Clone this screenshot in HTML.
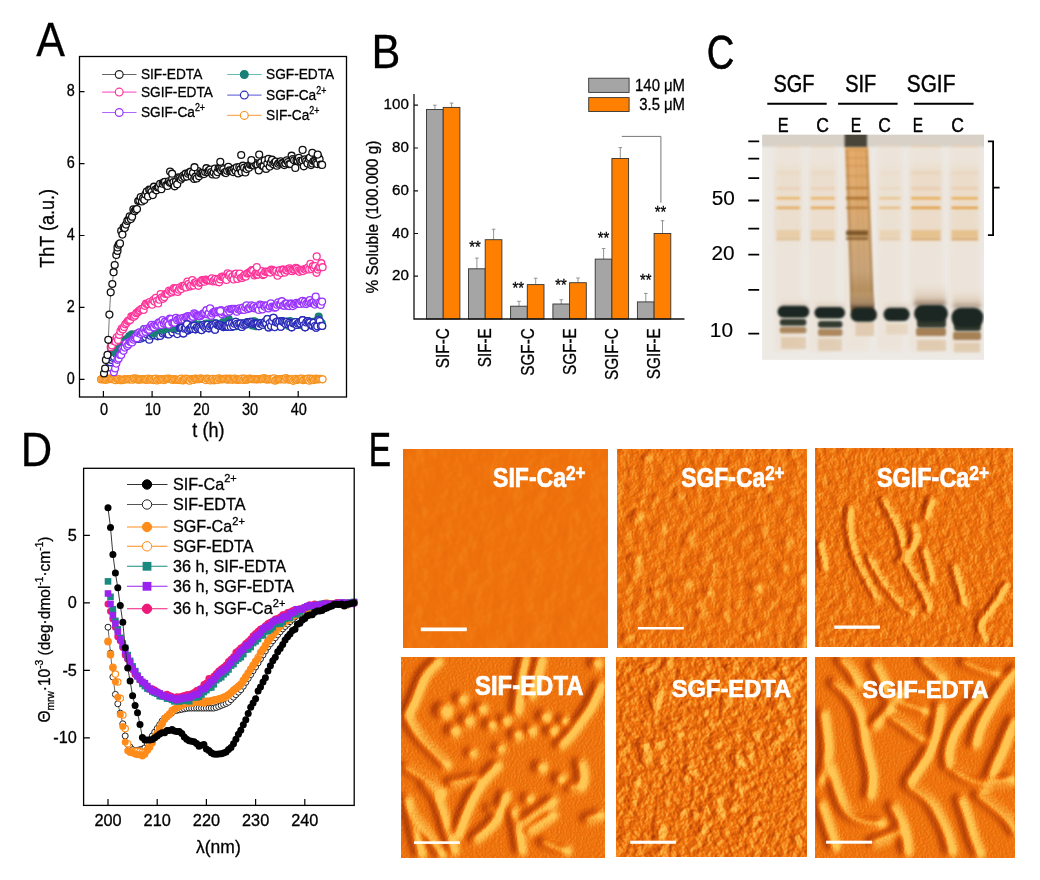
<!DOCTYPE html>
<html><head><meta charset="utf-8"><style>
html,body{margin:0;padding:0;background:#fff;}
svg{display:block;}
text{font-family:"Liberation Sans", Arial, sans-serif;}
#A text,#B text,#D text{stroke:#000;stroke-width:0.3px;}
</style></head><body>
<svg width="1040" height="880" viewBox="0 0 1040 880">
<rect width="1040" height="880" fill="#fff"/>
<g id="A">

<text transform="translate(36.15,55.65) scale(0.894,1)" font-size="48.1" stroke="#000" stroke-width="0.6">A</text>
<g fill="#fff" stroke="#f7931e" stroke-width="1.3"><path d="M101.0,379.4 L102.2,379.0 L103.4,379.4 L104.6,379.5 L105.8,379.8 L107.1,379.4 L108.3,378.7 L109.5,379.1 L110.7,378.7 L111.9,379.2 L113.1,379.1 L114.4,379.2 L115.6,380.2 L116.8,378.8 L118.0,379.0 L119.2,379.0 L120.4,380.2 L121.7,380.2 L122.9,379.8 L124.1,379.6 L125.3,379.1 L126.5,379.3 L127.8,379.0 L129.0,379.6 L130.2,379.1 L131.4,379.1 L132.6,379.7 L133.8,378.4 L135.1,379.0 L136.3,378.7 L137.5,379.6 L138.7,379.7 L139.9,379.5 L141.1,379.4 L142.4,379.0 L143.6,379.2 L144.8,379.5 L146.0,379.8 L147.2,379.6 L148.4,378.6 L149.7,379.7 L150.9,379.2 L152.1,379.1 L153.3,380.1 L154.5,379.3 L155.8,378.6 L157.0,380.4 L158.2,379.5 L159.4,379.4 L160.6,379.7 L161.8,379.0 L163.1,379.3 L164.3,380.1 L165.5,378.9 L166.7,378.9 L167.9,378.8 L169.1,378.5 L170.4,379.1 L171.6,379.2 L172.8,380.0 L174.0,379.0 L175.2,379.6 L176.4,379.5 L177.7,380.0 L178.9,379.8 L180.1,379.6 L181.3,378.6 L182.5,380.4 L183.8,380.1 L185.0,379.2 L186.2,378.5 L187.4,379.0 L188.6,380.3 L189.8,380.7 L191.1,379.1 L192.3,379.7 L193.5,379.9 L194.7,378.8 L195.9,378.7 L197.1,379.2 L198.4,379.2 L199.6,379.1 L200.8,378.4 L202.0,379.0 L203.2,379.0 L204.5,379.0 L205.7,380.1 L206.9,378.6 L208.1,378.8 L209.3,379.0 L210.5,380.4 L211.8,379.6 L213.0,378.8 L214.2,380.3 L215.4,379.4 L216.6,378.8 L217.8,380.0 L219.1,378.4 L220.3,379.0 L221.5,379.4 L222.7,379.1 L223.9,378.9 L225.2,379.2 L226.4,378.7 L227.6,379.7 L228.8,379.5 L230.0,378.7 L231.2,379.3 L232.5,379.8 L233.7,378.8 L234.9,378.5 L236.1,379.5 L237.3,380.0 L238.5,379.4 L239.8,379.4 L241.0,379.5 L242.2,378.5 L243.4,379.9 L244.6,378.6 L245.8,380.0 L247.1,379.7 L248.3,379.0 L249.5,378.7 L250.7,378.8 L251.9,379.1 L253.2,379.2 L254.4,379.2 L255.6,379.0 L256.8,379.4 L258.0,379.2 L259.2,379.0 L260.5,379.3 L261.7,378.9 L262.9,379.0 L264.1,378.2 L265.3,379.1 L266.5,379.5 L267.8,379.5 L269.0,379.3 L270.2,378.8 L271.4,379.5 L272.6,379.1 L273.9,378.3 L275.1,380.7 L276.3,379.9 L277.5,379.2 L278.7,379.1 L279.9,379.2 L281.2,379.5 L282.4,378.9 L283.6,379.1 L284.8,379.6 L286.0,378.0 L287.2,379.1 L288.5,379.6 L289.7,379.4 L290.9,379.4 L292.1,379.3 L293.3,380.8 L294.5,379.6 L295.8,378.8 L297.0,379.9 L298.2,379.3 L299.4,378.8 L300.6,378.8 L301.9,378.5 L303.1,380.2 L304.3,379.5 L305.5,379.5 L306.7,379.0 L307.9,378.7 L309.2,380.7 L310.4,378.7 L311.6,380.1 L312.8,378.9 L314.0,380.1 L315.2,379.2 L316.5,378.7 L317.7,379.4 L318.9,379.2 L320.1,378.9 L321.3,379.2 L322.6,379.3" fill="none" stroke="#f7b060" stroke-width="0.8"/><circle cx="101.0" cy="379.4" r="3.45"/><circle cx="102.2" cy="379.0" r="3.45"/><circle cx="103.4" cy="379.4" r="3.45"/><circle cx="104.6" cy="379.5" r="3.45"/><circle cx="105.8" cy="379.8" r="3.45"/><circle cx="107.1" cy="379.4" r="3.45"/><circle cx="108.3" cy="378.7" r="3.45"/><circle cx="109.5" cy="379.1" r="3.45"/><circle cx="110.7" cy="378.7" r="3.45"/><circle cx="111.9" cy="379.2" r="3.45"/><circle cx="113.1" cy="379.1" r="3.45"/><circle cx="114.4" cy="379.2" r="3.45"/><circle cx="115.6" cy="380.2" r="3.45"/><circle cx="116.8" cy="378.8" r="3.45"/><circle cx="118.0" cy="379.0" r="3.45"/><circle cx="119.2" cy="379.0" r="3.45"/><circle cx="120.4" cy="380.2" r="3.45"/><circle cx="121.7" cy="380.2" r="3.45"/><circle cx="122.9" cy="379.8" r="3.45"/><circle cx="124.1" cy="379.6" r="3.45"/><circle cx="125.3" cy="379.1" r="3.45"/><circle cx="126.5" cy="379.3" r="3.45"/><circle cx="127.8" cy="379.0" r="3.45"/><circle cx="129.0" cy="379.6" r="3.45"/><circle cx="130.2" cy="379.1" r="3.45"/><circle cx="131.4" cy="379.1" r="3.45"/><circle cx="132.6" cy="379.7" r="3.45"/><circle cx="133.8" cy="378.4" r="3.45"/><circle cx="135.1" cy="379.0" r="3.45"/><circle cx="136.3" cy="378.7" r="3.45"/><circle cx="137.5" cy="379.6" r="3.45"/><circle cx="138.7" cy="379.7" r="3.45"/><circle cx="139.9" cy="379.5" r="3.45"/><circle cx="141.1" cy="379.4" r="3.45"/><circle cx="142.4" cy="379.0" r="3.45"/><circle cx="143.6" cy="379.2" r="3.45"/><circle cx="144.8" cy="379.5" r="3.45"/><circle cx="146.0" cy="379.8" r="3.45"/><circle cx="147.2" cy="379.6" r="3.45"/><circle cx="148.4" cy="378.6" r="3.45"/><circle cx="149.7" cy="379.7" r="3.45"/><circle cx="150.9" cy="379.2" r="3.45"/><circle cx="152.1" cy="379.1" r="3.45"/><circle cx="153.3" cy="380.1" r="3.45"/><circle cx="154.5" cy="379.3" r="3.45"/><circle cx="155.8" cy="378.6" r="3.45"/><circle cx="157.0" cy="380.4" r="3.45"/><circle cx="158.2" cy="379.5" r="3.45"/><circle cx="159.4" cy="379.4" r="3.45"/><circle cx="160.6" cy="379.7" r="3.45"/><circle cx="161.8" cy="379.0" r="3.45"/><circle cx="163.1" cy="379.3" r="3.45"/><circle cx="164.3" cy="380.1" r="3.45"/><circle cx="165.5" cy="378.9" r="3.45"/><circle cx="166.7" cy="378.9" r="3.45"/><circle cx="167.9" cy="378.8" r="3.45"/><circle cx="169.1" cy="378.5" r="3.45"/><circle cx="170.4" cy="379.1" r="3.45"/><circle cx="171.6" cy="379.2" r="3.45"/><circle cx="172.8" cy="380.0" r="3.45"/><circle cx="174.0" cy="379.0" r="3.45"/><circle cx="175.2" cy="379.6" r="3.45"/><circle cx="176.4" cy="379.5" r="3.45"/><circle cx="177.7" cy="380.0" r="3.45"/><circle cx="178.9" cy="379.8" r="3.45"/><circle cx="180.1" cy="379.6" r="3.45"/><circle cx="181.3" cy="378.6" r="3.45"/><circle cx="182.5" cy="380.4" r="3.45"/><circle cx="183.8" cy="380.1" r="3.45"/><circle cx="185.0" cy="379.2" r="3.45"/><circle cx="186.2" cy="378.5" r="3.45"/><circle cx="187.4" cy="379.0" r="3.45"/><circle cx="188.6" cy="380.3" r="3.45"/><circle cx="189.8" cy="380.7" r="3.45"/><circle cx="191.1" cy="379.1" r="3.45"/><circle cx="192.3" cy="379.7" r="3.45"/><circle cx="193.5" cy="379.9" r="3.45"/><circle cx="194.7" cy="378.8" r="3.45"/><circle cx="195.9" cy="378.7" r="3.45"/><circle cx="197.1" cy="379.2" r="3.45"/><circle cx="198.4" cy="379.2" r="3.45"/><circle cx="199.6" cy="379.1" r="3.45"/><circle cx="200.8" cy="378.4" r="3.45"/><circle cx="202.0" cy="379.0" r="3.45"/><circle cx="203.2" cy="379.0" r="3.45"/><circle cx="204.5" cy="379.0" r="3.45"/><circle cx="205.7" cy="380.1" r="3.45"/><circle cx="206.9" cy="378.6" r="3.45"/><circle cx="208.1" cy="378.8" r="3.45"/><circle cx="209.3" cy="379.0" r="3.45"/><circle cx="210.5" cy="380.4" r="3.45"/><circle cx="211.8" cy="379.6" r="3.45"/><circle cx="213.0" cy="378.8" r="3.45"/><circle cx="214.2" cy="380.3" r="3.45"/><circle cx="215.4" cy="379.4" r="3.45"/><circle cx="216.6" cy="378.8" r="3.45"/><circle cx="217.8" cy="380.0" r="3.45"/><circle cx="219.1" cy="378.4" r="3.45"/><circle cx="220.3" cy="379.0" r="3.45"/><circle cx="221.5" cy="379.4" r="3.45"/><circle cx="222.7" cy="379.1" r="3.45"/><circle cx="223.9" cy="378.9" r="3.45"/><circle cx="225.2" cy="379.2" r="3.45"/><circle cx="226.4" cy="378.7" r="3.45"/><circle cx="227.6" cy="379.7" r="3.45"/><circle cx="228.8" cy="379.5" r="3.45"/><circle cx="230.0" cy="378.7" r="3.45"/><circle cx="231.2" cy="379.3" r="3.45"/><circle cx="232.5" cy="379.8" r="3.45"/><circle cx="233.7" cy="378.8" r="3.45"/><circle cx="234.9" cy="378.5" r="3.45"/><circle cx="236.1" cy="379.5" r="3.45"/><circle cx="237.3" cy="380.0" r="3.45"/><circle cx="238.5" cy="379.4" r="3.45"/><circle cx="239.8" cy="379.4" r="3.45"/><circle cx="241.0" cy="379.5" r="3.45"/><circle cx="242.2" cy="378.5" r="3.45"/><circle cx="243.4" cy="379.9" r="3.45"/><circle cx="244.6" cy="378.6" r="3.45"/><circle cx="245.8" cy="380.0" r="3.45"/><circle cx="247.1" cy="379.7" r="3.45"/><circle cx="248.3" cy="379.0" r="3.45"/><circle cx="249.5" cy="378.7" r="3.45"/><circle cx="250.7" cy="378.8" r="3.45"/><circle cx="251.9" cy="379.1" r="3.45"/><circle cx="253.2" cy="379.2" r="3.45"/><circle cx="254.4" cy="379.2" r="3.45"/><circle cx="255.6" cy="379.0" r="3.45"/><circle cx="256.8" cy="379.4" r="3.45"/><circle cx="258.0" cy="379.2" r="3.45"/><circle cx="259.2" cy="379.0" r="3.45"/><circle cx="260.5" cy="379.3" r="3.45"/><circle cx="261.7" cy="378.9" r="3.45"/><circle cx="262.9" cy="379.0" r="3.45"/><circle cx="264.1" cy="378.2" r="3.45"/><circle cx="265.3" cy="379.1" r="3.45"/><circle cx="266.5" cy="379.5" r="3.45"/><circle cx="267.8" cy="379.5" r="3.45"/><circle cx="269.0" cy="379.3" r="3.45"/><circle cx="270.2" cy="378.8" r="3.45"/><circle cx="271.4" cy="379.5" r="3.45"/><circle cx="272.6" cy="379.1" r="3.45"/><circle cx="273.9" cy="378.3" r="3.45"/><circle cx="275.1" cy="380.7" r="3.45"/><circle cx="276.3" cy="379.9" r="3.45"/><circle cx="277.5" cy="379.2" r="3.45"/><circle cx="278.7" cy="379.1" r="3.45"/><circle cx="279.9" cy="379.2" r="3.45"/><circle cx="281.2" cy="379.5" r="3.45"/><circle cx="282.4" cy="378.9" r="3.45"/><circle cx="283.6" cy="379.1" r="3.45"/><circle cx="284.8" cy="379.6" r="3.45"/><circle cx="286.0" cy="378.0" r="3.45"/><circle cx="287.2" cy="379.1" r="3.45"/><circle cx="288.5" cy="379.6" r="3.45"/><circle cx="289.7" cy="379.4" r="3.45"/><circle cx="290.9" cy="379.4" r="3.45"/><circle cx="292.1" cy="379.3" r="3.45"/><circle cx="293.3" cy="380.8" r="3.45"/><circle cx="294.5" cy="379.6" r="3.45"/><circle cx="295.8" cy="378.8" r="3.45"/><circle cx="297.0" cy="379.9" r="3.45"/><circle cx="298.2" cy="379.3" r="3.45"/><circle cx="299.4" cy="378.8" r="3.45"/><circle cx="300.6" cy="378.8" r="3.45"/><circle cx="301.9" cy="378.5" r="3.45"/><circle cx="303.1" cy="380.2" r="3.45"/><circle cx="304.3" cy="379.5" r="3.45"/><circle cx="305.5" cy="379.5" r="3.45"/><circle cx="306.7" cy="379.0" r="3.45"/><circle cx="307.9" cy="378.7" r="3.45"/><circle cx="309.2" cy="380.7" r="3.45"/><circle cx="310.4" cy="378.7" r="3.45"/><circle cx="311.6" cy="380.1" r="3.45"/><circle cx="312.8" cy="378.9" r="3.45"/><circle cx="314.0" cy="380.1" r="3.45"/><circle cx="315.2" cy="379.2" r="3.45"/><circle cx="316.5" cy="378.7" r="3.45"/><circle cx="317.7" cy="379.4" r="3.45"/><circle cx="318.9" cy="379.2" r="3.45"/><circle cx="320.1" cy="378.9" r="3.45"/><circle cx="321.3" cy="379.2" r="3.45"/><circle cx="322.6" cy="379.3" r="3.45"/></g>
<g fill="#fff" stroke="#2a2ab8" stroke-width="1.3"><circle cx="109.1" cy="367.4" r="3.45"/><circle cx="110.3" cy="362.3" r="3.45"/><circle cx="111.5" cy="360.0" r="3.45"/><circle cx="112.8" cy="357.8" r="3.45"/><circle cx="114.0" cy="356.8" r="3.45"/><circle cx="115.2" cy="352.3" r="3.45"/><circle cx="116.4" cy="353.9" r="3.45"/><circle cx="117.6" cy="352.7" r="3.45"/><circle cx="118.8" cy="348.7" r="3.45"/><circle cx="120.1" cy="348.8" r="3.45"/><circle cx="121.3" cy="348.0" r="3.45"/><circle cx="122.5" cy="347.1" r="3.45"/><circle cx="123.7" cy="345.1" r="3.45"/><circle cx="124.9" cy="342.6" r="3.45"/><circle cx="126.1" cy="342.2" r="3.45"/><circle cx="127.4" cy="344.2" r="3.45"/><circle cx="128.6" cy="340.5" r="3.45"/><circle cx="129.8" cy="340.1" r="3.45"/><circle cx="131.0" cy="341.9" r="3.45"/><circle cx="132.2" cy="338.3" r="3.45"/><circle cx="133.4" cy="339.8" r="3.45"/><circle cx="134.7" cy="339.5" r="3.45"/><circle cx="135.9" cy="337.1" r="3.45"/><circle cx="137.1" cy="335.8" r="3.45"/><circle cx="138.3" cy="339.0" r="3.45"/><circle cx="139.5" cy="336.6" r="3.45"/><circle cx="140.8" cy="338.6" r="3.45"/><circle cx="142.0" cy="332.6" r="3.45"/><circle cx="143.2" cy="337.4" r="3.45"/><circle cx="144.4" cy="334.1" r="3.45"/><circle cx="145.6" cy="337.1" r="3.45"/><circle cx="146.8" cy="334.2" r="3.45"/><circle cx="148.1" cy="331.4" r="3.45"/><circle cx="149.3" cy="339.7" r="3.45"/><circle cx="150.5" cy="335.7" r="3.45"/><circle cx="151.7" cy="333.7" r="3.45"/><circle cx="152.9" cy="334.5" r="3.45"/><circle cx="154.1" cy="335.3" r="3.45"/><circle cx="155.4" cy="329.9" r="3.45"/><circle cx="156.6" cy="333.4" r="3.45"/><circle cx="157.8" cy="336.3" r="3.45"/><circle cx="159.0" cy="331.6" r="3.45"/><circle cx="160.2" cy="336.0" r="3.45"/><circle cx="161.5" cy="330.6" r="3.45"/><circle cx="162.7" cy="333.5" r="3.45"/><circle cx="163.9" cy="332.0" r="3.45"/><circle cx="165.1" cy="329.8" r="3.45"/><circle cx="166.3" cy="331.7" r="3.45"/><circle cx="167.5" cy="334.2" r="3.45"/><circle cx="168.8" cy="334.5" r="3.45"/><circle cx="170.0" cy="329.1" r="3.45"/><circle cx="171.2" cy="329.7" r="3.45"/><circle cx="172.4" cy="332.3" r="3.45"/><circle cx="173.6" cy="329.1" r="3.45"/><circle cx="174.8" cy="329.5" r="3.45"/><circle cx="176.1" cy="329.1" r="3.45"/><circle cx="177.3" cy="334.1" r="3.45"/><circle cx="178.5" cy="330.4" r="3.45"/><circle cx="179.7" cy="328.0" r="3.45"/><circle cx="180.9" cy="328.1" r="3.45"/><circle cx="182.1" cy="327.7" r="3.45"/><circle cx="183.4" cy="333.5" r="3.45"/><circle cx="184.6" cy="328.7" r="3.45"/><circle cx="185.8" cy="328.0" r="3.45"/><circle cx="187.0" cy="324.2" r="3.45"/><circle cx="188.2" cy="330.3" r="3.45"/><circle cx="189.5" cy="329.1" r="3.45"/><circle cx="190.7" cy="328.3" r="3.45"/><circle cx="191.9" cy="326.7" r="3.45"/><circle cx="193.1" cy="328.9" r="3.45"/><circle cx="194.3" cy="325.9" r="3.45"/><circle cx="195.5" cy="329.3" r="3.45"/><circle cx="196.8" cy="327.3" r="3.45"/><circle cx="198.0" cy="328.6" r="3.45"/><circle cx="199.2" cy="327.2" r="3.45"/><circle cx="200.4" cy="328.6" r="3.45"/><circle cx="201.6" cy="330.1" r="3.45"/><circle cx="202.8" cy="325.2" r="3.45"/><circle cx="204.1" cy="326.5" r="3.45"/><circle cx="205.3" cy="327.9" r="3.45"/><circle cx="206.5" cy="326.4" r="3.45"/><circle cx="207.7" cy="324.9" r="3.45"/><circle cx="208.9" cy="328.3" r="3.45"/><circle cx="210.2" cy="326.6" r="3.45"/><circle cx="211.4" cy="325.3" r="3.45"/><circle cx="212.6" cy="325.2" r="3.45"/><circle cx="213.8" cy="326.6" r="3.45"/><circle cx="215.0" cy="329.7" r="3.45"/><circle cx="216.2" cy="323.6" r="3.45"/><circle cx="217.5" cy="325.1" r="3.45"/><circle cx="218.7" cy="325.6" r="3.45"/><circle cx="219.9" cy="326.0" r="3.45"/><circle cx="221.1" cy="325.0" r="3.45"/><circle cx="222.3" cy="326.1" r="3.45"/><circle cx="223.5" cy="327.1" r="3.45"/><circle cx="224.8" cy="326.5" r="3.45"/><circle cx="226.0" cy="326.1" r="3.45"/><circle cx="227.2" cy="326.1" r="3.45"/><circle cx="228.4" cy="326.9" r="3.45"/><circle cx="229.6" cy="323.6" r="3.45"/><circle cx="230.8" cy="327.0" r="3.45"/><circle cx="232.1" cy="323.4" r="3.45"/><circle cx="233.3" cy="326.3" r="3.45"/><circle cx="234.5" cy="323.7" r="3.45"/><circle cx="235.7" cy="321.8" r="3.45"/><circle cx="236.9" cy="323.8" r="3.45"/><circle cx="238.2" cy="325.4" r="3.45"/><circle cx="239.4" cy="323.9" r="3.45"/><circle cx="240.6" cy="323.6" r="3.45"/><circle cx="241.8" cy="326.9" r="3.45"/><circle cx="243.0" cy="324.8" r="3.45"/><circle cx="244.2" cy="323.3" r="3.45"/><circle cx="245.5" cy="324.4" r="3.45"/><circle cx="246.7" cy="323.4" r="3.45"/><circle cx="247.9" cy="322.1" r="3.45"/><circle cx="249.1" cy="322.0" r="3.45"/><circle cx="250.3" cy="321.8" r="3.45"/><circle cx="251.5" cy="322.3" r="3.45"/><circle cx="252.8" cy="323.8" r="3.45"/><circle cx="254.0" cy="323.3" r="3.45"/><circle cx="255.2" cy="323.7" r="3.45"/><circle cx="256.4" cy="323.7" r="3.45"/><circle cx="257.6" cy="323.5" r="3.45"/><circle cx="258.9" cy="326.2" r="3.45"/><circle cx="260.1" cy="323.7" r="3.45"/><circle cx="261.3" cy="323.1" r="3.45"/><circle cx="262.5" cy="324.7" r="3.45"/><circle cx="263.7" cy="323.0" r="3.45"/><circle cx="264.9" cy="322.0" r="3.45"/><circle cx="266.2" cy="323.2" r="3.45"/><circle cx="267.4" cy="319.1" r="3.45"/><circle cx="268.6" cy="327.5" r="3.45"/><circle cx="269.8" cy="323.1" r="3.45"/><circle cx="271.0" cy="326.0" r="3.45"/><circle cx="272.2" cy="320.9" r="3.45"/><circle cx="273.5" cy="317.8" r="3.45"/><circle cx="274.7" cy="327.1" r="3.45"/><circle cx="275.9" cy="322.3" r="3.45"/><circle cx="277.1" cy="321.6" r="3.45"/><circle cx="278.3" cy="323.1" r="3.45"/><circle cx="279.5" cy="321.6" r="3.45"/><circle cx="280.8" cy="326.7" r="3.45"/><circle cx="282.0" cy="321.2" r="3.45"/><circle cx="283.2" cy="322.1" r="3.45"/><circle cx="284.4" cy="322.8" r="3.45"/><circle cx="285.6" cy="324.0" r="3.45"/><circle cx="286.9" cy="321.8" r="3.45"/><circle cx="288.1" cy="323.9" r="3.45"/><circle cx="289.3" cy="322.7" r="3.45"/><circle cx="290.5" cy="324.1" r="3.45"/><circle cx="291.7" cy="327.3" r="3.45"/><circle cx="292.9" cy="323.3" r="3.45"/><circle cx="294.2" cy="323.0" r="3.45"/><circle cx="295.4" cy="322.0" r="3.45"/><circle cx="296.6" cy="325.0" r="3.45"/><circle cx="297.8" cy="323.6" r="3.45"/><circle cx="299.0" cy="322.5" r="3.45"/><circle cx="300.2" cy="323.4" r="3.45"/><circle cx="301.5" cy="321.5" r="3.45"/><circle cx="302.7" cy="320.2" r="3.45"/><circle cx="303.9" cy="325.4" r="3.45"/><circle cx="305.1" cy="327.3" r="3.45"/><circle cx="306.3" cy="322.4" r="3.45"/><circle cx="307.6" cy="321.2" r="3.45"/><circle cx="308.8" cy="322.4" r="3.45"/><circle cx="310.0" cy="322.6" r="3.45"/><circle cx="311.2" cy="325.3" r="3.45"/><circle cx="312.4" cy="325.5" r="3.45"/><circle cx="313.6" cy="322.7" r="3.45"/><circle cx="314.9" cy="326.0" r="3.45"/><circle cx="316.1" cy="327.7" r="3.45"/><circle cx="317.3" cy="326.2" r="3.45"/><circle cx="318.5" cy="320.0" r="3.45"/><circle cx="319.7" cy="321.1" r="3.45"/><circle cx="320.9" cy="325.9" r="3.45"/><circle cx="322.2" cy="326.0" r="3.45"/></g>
<g fill="#1a7f77" stroke="#1a7f77" stroke-width="1.3"><circle cx="112.3" cy="351.7" r="3.45"/><circle cx="113.5" cy="351.4" r="3.45"/><circle cx="114.7" cy="348.7" r="3.45"/><circle cx="116.0" cy="348.9" r="3.45"/><circle cx="117.2" cy="348.2" r="3.45"/><circle cx="118.4" cy="346.0" r="3.45"/><circle cx="119.6" cy="347.1" r="3.45"/><circle cx="120.8" cy="345.1" r="3.45"/><circle cx="122.1" cy="343.3" r="3.45"/><circle cx="123.3" cy="341.3" r="3.45"/><circle cx="124.5" cy="341.3" r="3.45"/><circle cx="125.7" cy="339.7" r="3.45"/><circle cx="126.9" cy="339.7" r="3.45"/><circle cx="128.1" cy="338.0" r="3.45"/><circle cx="129.4" cy="336.0" r="3.45"/><circle cx="130.6" cy="338.1" r="3.45"/><circle cx="131.8" cy="334.3" r="3.45"/><circle cx="133.0" cy="337.1" r="3.45"/><circle cx="134.2" cy="335.9" r="3.45"/><circle cx="135.4" cy="335.2" r="3.45"/><circle cx="136.7" cy="333.8" r="3.45"/><circle cx="137.9" cy="335.7" r="3.45"/><circle cx="139.1" cy="336.2" r="3.45"/><circle cx="140.3" cy="332.8" r="3.45"/><circle cx="141.5" cy="332.1" r="3.45"/><circle cx="142.7" cy="331.8" r="3.45"/><circle cx="144.0" cy="329.2" r="3.45"/><circle cx="145.2" cy="331.5" r="3.45"/><circle cx="146.4" cy="331.2" r="3.45"/><circle cx="147.6" cy="330.1" r="3.45"/><circle cx="148.8" cy="330.5" r="3.45"/><circle cx="150.1" cy="328.8" r="3.45"/><circle cx="151.3" cy="331.6" r="3.45"/><circle cx="152.5" cy="330.4" r="3.45"/><circle cx="153.7" cy="333.6" r="3.45"/><circle cx="154.9" cy="328.8" r="3.45"/><circle cx="156.1" cy="330.0" r="3.45"/><circle cx="157.4" cy="328.4" r="3.45"/><circle cx="158.6" cy="326.9" r="3.45"/><circle cx="159.8" cy="329.1" r="3.45"/><circle cx="161.0" cy="329.3" r="3.45"/><circle cx="162.2" cy="329.4" r="3.45"/><circle cx="163.4" cy="329.6" r="3.45"/><circle cx="164.7" cy="329.2" r="3.45"/><circle cx="165.9" cy="327.7" r="3.45"/><circle cx="167.1" cy="328.2" r="3.45"/><circle cx="168.3" cy="328.0" r="3.45"/><circle cx="169.5" cy="328.1" r="3.45"/><circle cx="170.8" cy="326.8" r="3.45"/><circle cx="172.0" cy="327.1" r="3.45"/><circle cx="173.2" cy="327.7" r="3.45"/><circle cx="174.4" cy="326.7" r="3.45"/><circle cx="175.6" cy="327.4" r="3.45"/><circle cx="176.8" cy="328.3" r="3.45"/><circle cx="178.1" cy="325.4" r="3.45"/><circle cx="179.3" cy="326.3" r="3.45"/><circle cx="180.5" cy="327.7" r="3.45"/><circle cx="181.7" cy="325.3" r="3.45"/><circle cx="182.9" cy="326.0" r="3.45"/><circle cx="184.1" cy="327.9" r="3.45"/><circle cx="185.4" cy="324.3" r="3.45"/><circle cx="186.6" cy="325.6" r="3.45"/><circle cx="187.8" cy="324.8" r="3.45"/><circle cx="189.0" cy="325.4" r="3.45"/><circle cx="190.2" cy="325.6" r="3.45"/><circle cx="191.4" cy="327.0" r="3.45"/><circle cx="192.7" cy="324.3" r="3.45"/><circle cx="193.9" cy="325.3" r="3.45"/><circle cx="195.1" cy="325.6" r="3.45"/><circle cx="196.3" cy="324.9" r="3.45"/><circle cx="197.5" cy="325.2" r="3.45"/><circle cx="198.8" cy="324.5" r="3.45"/><circle cx="200.0" cy="325.6" r="3.45"/><circle cx="201.2" cy="325.2" r="3.45"/><circle cx="202.4" cy="327.5" r="3.45"/><circle cx="203.6" cy="325.6" r="3.45"/><circle cx="204.8" cy="324.4" r="3.45"/><circle cx="206.1" cy="323.6" r="3.45"/><circle cx="207.3" cy="325.5" r="3.45"/><circle cx="208.5" cy="325.2" r="3.45"/><circle cx="209.7" cy="323.3" r="3.45"/><circle cx="210.9" cy="325.4" r="3.45"/><circle cx="212.1" cy="324.2" r="3.45"/><circle cx="213.4" cy="323.1" r="3.45"/><circle cx="214.6" cy="324.9" r="3.45"/><circle cx="215.8" cy="323.6" r="3.45"/><circle cx="217.0" cy="325.6" r="3.45"/><circle cx="218.2" cy="324.6" r="3.45"/><circle cx="219.5" cy="324.9" r="3.45"/><circle cx="220.7" cy="324.7" r="3.45"/><circle cx="221.9" cy="323.6" r="3.45"/><circle cx="223.1" cy="322.2" r="3.45"/><circle cx="224.3" cy="325.5" r="3.45"/><circle cx="225.5" cy="325.3" r="3.45"/><circle cx="226.8" cy="324.2" r="3.45"/><circle cx="228.0" cy="325.8" r="3.45"/><circle cx="229.2" cy="324.1" r="3.45"/><circle cx="230.4" cy="324.0" r="3.45"/><circle cx="231.6" cy="324.9" r="3.45"/><circle cx="232.8" cy="324.0" r="3.45"/><circle cx="234.1" cy="326.2" r="3.45"/><circle cx="235.3" cy="323.7" r="3.45"/><circle cx="236.5" cy="326.2" r="3.45"/><circle cx="237.7" cy="325.2" r="3.45"/><circle cx="238.9" cy="325.0" r="3.45"/><circle cx="240.1" cy="324.8" r="3.45"/><circle cx="241.4" cy="323.4" r="3.45"/><circle cx="242.6" cy="324.3" r="3.45"/><circle cx="243.8" cy="324.7" r="3.45"/><circle cx="245.0" cy="323.7" r="3.45"/><circle cx="246.2" cy="322.6" r="3.45"/><circle cx="247.5" cy="324.2" r="3.45"/><circle cx="248.7" cy="323.8" r="3.45"/><circle cx="249.9" cy="322.8" r="3.45"/><circle cx="251.1" cy="323.9" r="3.45"/><circle cx="252.3" cy="325.5" r="3.45"/><circle cx="253.5" cy="321.4" r="3.45"/><circle cx="254.8" cy="321.7" r="3.45"/><circle cx="256.0" cy="326.2" r="3.45"/><circle cx="257.2" cy="324.0" r="3.45"/><circle cx="258.4" cy="323.5" r="3.45"/><circle cx="259.6" cy="322.9" r="3.45"/><circle cx="260.8" cy="323.2" r="3.45"/><circle cx="262.1" cy="324.2" r="3.45"/><circle cx="263.3" cy="325.0" r="3.45"/><circle cx="264.5" cy="323.7" r="3.45"/><circle cx="265.7" cy="322.7" r="3.45"/><circle cx="266.9" cy="325.0" r="3.45"/><circle cx="268.2" cy="324.9" r="3.45"/><circle cx="269.4" cy="323.8" r="3.45"/><circle cx="270.6" cy="325.8" r="3.45"/><circle cx="271.8" cy="324.0" r="3.45"/><circle cx="273.0" cy="324.1" r="3.45"/><circle cx="274.2" cy="323.1" r="3.45"/><circle cx="275.5" cy="324.3" r="3.45"/><circle cx="276.7" cy="324.5" r="3.45"/><circle cx="277.9" cy="324.0" r="3.45"/><circle cx="279.1" cy="323.6" r="3.45"/><circle cx="280.3" cy="324.2" r="3.45"/><circle cx="281.5" cy="323.4" r="3.45"/><circle cx="282.8" cy="322.6" r="3.45"/><circle cx="284.0" cy="322.1" r="3.45"/><circle cx="285.2" cy="321.5" r="3.45"/><circle cx="286.4" cy="324.2" r="3.45"/><circle cx="287.6" cy="323.8" r="3.45"/><circle cx="288.8" cy="326.0" r="3.45"/><circle cx="290.1" cy="321.2" r="3.45"/><circle cx="291.3" cy="324.0" r="3.45"/><circle cx="292.5" cy="323.2" r="3.45"/><circle cx="293.7" cy="322.6" r="3.45"/><circle cx="294.9" cy="324.6" r="3.45"/><circle cx="296.2" cy="322.6" r="3.45"/><circle cx="297.4" cy="323.1" r="3.45"/><circle cx="298.6" cy="325.0" r="3.45"/><circle cx="299.8" cy="322.7" r="3.45"/><circle cx="301.0" cy="321.7" r="3.45"/><circle cx="302.2" cy="325.0" r="3.45"/><circle cx="303.5" cy="322.1" r="3.45"/><circle cx="304.7" cy="322.7" r="3.45"/><circle cx="305.9" cy="322.4" r="3.45"/><circle cx="307.1" cy="322.4" r="3.45"/><circle cx="308.3" cy="321.4" r="3.45"/><circle cx="309.5" cy="323.0" r="3.45"/><circle cx="310.8" cy="321.8" r="3.45"/><circle cx="312.0" cy="323.2" r="3.45"/><circle cx="313.2" cy="321.9" r="3.45"/><circle cx="314.4" cy="323.6" r="3.45"/><circle cx="315.6" cy="322.8" r="3.45"/><circle cx="316.9" cy="320.8" r="3.45"/><circle cx="318.1" cy="322.1" r="3.45"/><circle cx="319.3" cy="322.7" r="3.45"/><circle cx="320.5" cy="323.8" r="3.45"/><circle cx="321.7" cy="323.4" r="3.45"/><circle cx="175.0" cy="320.0" r="3.45"/><circle cx="190.6" cy="321.1" r="3.45"/><circle cx="193.0" cy="321.8" r="3.45"/><circle cx="228.6" cy="318.9" r="3.45"/><circle cx="318.7" cy="316.7" r="3.45"/></g>
<g fill="#fff" stroke="#9933ff" stroke-width="1.3"><circle cx="113.9" cy="372.2" r="3.45"/><circle cx="115.1" cy="368.5" r="3.45"/><circle cx="116.3" cy="363.6" r="3.45"/><circle cx="117.5" cy="359.8" r="3.45"/><circle cx="118.7" cy="358.4" r="3.45"/><circle cx="120.0" cy="354.9" r="3.45"/><circle cx="121.2" cy="355.0" r="3.45"/><circle cx="122.4" cy="348.9" r="3.45"/><circle cx="123.6" cy="350.8" r="3.45"/><circle cx="124.8" cy="347.6" r="3.45"/><circle cx="126.0" cy="343.4" r="3.45"/><circle cx="127.3" cy="346.1" r="3.45"/><circle cx="128.5" cy="344.5" r="3.45"/><circle cx="129.7" cy="341.5" r="3.45"/><circle cx="130.9" cy="342.2" r="3.45"/><circle cx="132.1" cy="342.4" r="3.45"/><circle cx="133.4" cy="339.6" r="3.45"/><circle cx="134.6" cy="338.0" r="3.45"/><circle cx="135.8" cy="336.8" r="3.45"/><circle cx="137.0" cy="338.2" r="3.45"/><circle cx="138.2" cy="333.1" r="3.45"/><circle cx="139.4" cy="332.3" r="3.45"/><circle cx="140.7" cy="333.9" r="3.45"/><circle cx="141.9" cy="332.5" r="3.45"/><circle cx="143.1" cy="332.8" r="3.45"/><circle cx="144.3" cy="329.1" r="3.45"/><circle cx="145.5" cy="331.8" r="3.45"/><circle cx="146.7" cy="328.9" r="3.45"/><circle cx="148.0" cy="330.0" r="3.45"/><circle cx="149.2" cy="329.7" r="3.45"/><circle cx="150.4" cy="326.7" r="3.45"/><circle cx="151.6" cy="324.9" r="3.45"/><circle cx="152.8" cy="326.6" r="3.45"/><circle cx="154.0" cy="327.3" r="3.45"/><circle cx="155.3" cy="324.6" r="3.45"/><circle cx="156.5" cy="325.6" r="3.45"/><circle cx="157.7" cy="324.7" r="3.45"/><circle cx="158.9" cy="322.3" r="3.45"/><circle cx="160.1" cy="322.6" r="3.45"/><circle cx="161.4" cy="324.9" r="3.45"/><circle cx="162.6" cy="320.0" r="3.45"/><circle cx="163.8" cy="323.4" r="3.45"/><circle cx="165.0" cy="321.7" r="3.45"/><circle cx="166.2" cy="323.7" r="3.45"/><circle cx="167.4" cy="322.4" r="3.45"/><circle cx="168.7" cy="324.8" r="3.45"/><circle cx="169.9" cy="318.7" r="3.45"/><circle cx="171.1" cy="319.0" r="3.45"/><circle cx="172.3" cy="322.8" r="3.45"/><circle cx="173.5" cy="322.9" r="3.45"/><circle cx="174.7" cy="322.7" r="3.45"/><circle cx="176.0" cy="317.9" r="3.45"/><circle cx="177.2" cy="320.2" r="3.45"/><circle cx="178.4" cy="319.1" r="3.45"/><circle cx="179.6" cy="319.2" r="3.45"/><circle cx="180.8" cy="318.5" r="3.45"/><circle cx="182.1" cy="319.8" r="3.45"/><circle cx="183.3" cy="317.8" r="3.45"/><circle cx="184.5" cy="319.9" r="3.45"/><circle cx="185.7" cy="317.5" r="3.45"/><circle cx="186.9" cy="316.7" r="3.45"/><circle cx="188.1" cy="316.2" r="3.45"/><circle cx="189.4" cy="317.1" r="3.45"/><circle cx="190.6" cy="318.0" r="3.45"/><circle cx="191.8" cy="316.0" r="3.45"/><circle cx="193.0" cy="316.8" r="3.45"/><circle cx="194.2" cy="313.3" r="3.45"/><circle cx="195.4" cy="314.4" r="3.45"/><circle cx="196.7" cy="315.6" r="3.45"/><circle cx="197.9" cy="315.9" r="3.45"/><circle cx="199.1" cy="316.1" r="3.45"/><circle cx="200.3" cy="316.2" r="3.45"/><circle cx="201.5" cy="315.1" r="3.45"/><circle cx="202.7" cy="313.8" r="3.45"/><circle cx="204.0" cy="313.2" r="3.45"/><circle cx="205.2" cy="312.9" r="3.45"/><circle cx="206.4" cy="310.2" r="3.45"/><circle cx="207.6" cy="314.5" r="3.45"/><circle cx="208.8" cy="313.2" r="3.45"/><circle cx="210.1" cy="308.4" r="3.45"/><circle cx="211.3" cy="315.8" r="3.45"/><circle cx="212.5" cy="313.4" r="3.45"/><circle cx="213.7" cy="312.1" r="3.45"/><circle cx="214.9" cy="311.9" r="3.45"/><circle cx="216.1" cy="311.4" r="3.45"/><circle cx="217.4" cy="312.3" r="3.45"/><circle cx="218.6" cy="311.1" r="3.45"/><circle cx="219.8" cy="311.5" r="3.45"/><circle cx="221.0" cy="310.2" r="3.45"/><circle cx="222.2" cy="314.3" r="3.45"/><circle cx="223.4" cy="312.6" r="3.45"/><circle cx="224.7" cy="311.0" r="3.45"/><circle cx="225.9" cy="312.5" r="3.45"/><circle cx="227.1" cy="312.4" r="3.45"/><circle cx="228.3" cy="309.5" r="3.45"/><circle cx="229.5" cy="311.4" r="3.45"/><circle cx="230.8" cy="309.2" r="3.45"/><circle cx="232.0" cy="308.9" r="3.45"/><circle cx="233.2" cy="309.4" r="3.45"/><circle cx="234.4" cy="308.9" r="3.45"/><circle cx="235.6" cy="309.8" r="3.45"/><circle cx="236.8" cy="311.7" r="3.45"/><circle cx="238.1" cy="309.3" r="3.45"/><circle cx="239.3" cy="308.4" r="3.45"/><circle cx="240.5" cy="309.9" r="3.45"/><circle cx="241.7" cy="309.0" r="3.45"/><circle cx="242.9" cy="307.5" r="3.45"/><circle cx="244.1" cy="310.0" r="3.45"/><circle cx="245.4" cy="307.4" r="3.45"/><circle cx="246.6" cy="305.3" r="3.45"/><circle cx="247.8" cy="309.1" r="3.45"/><circle cx="249.0" cy="307.8" r="3.45"/><circle cx="250.2" cy="308.2" r="3.45"/><circle cx="251.4" cy="305.3" r="3.45"/><circle cx="252.7" cy="307.2" r="3.45"/><circle cx="253.9" cy="306.1" r="3.45"/><circle cx="255.1" cy="308.5" r="3.45"/><circle cx="256.3" cy="307.3" r="3.45"/><circle cx="257.5" cy="307.2" r="3.45"/><circle cx="258.8" cy="309.9" r="3.45"/><circle cx="260.0" cy="304.6" r="3.45"/><circle cx="261.2" cy="305.4" r="3.45"/><circle cx="262.4" cy="309.5" r="3.45"/><circle cx="263.6" cy="305.4" r="3.45"/><circle cx="264.8" cy="306.7" r="3.45"/><circle cx="266.1" cy="305.6" r="3.45"/><circle cx="267.3" cy="305.6" r="3.45"/><circle cx="268.5" cy="308.5" r="3.45"/><circle cx="269.7" cy="306.3" r="3.45"/><circle cx="270.9" cy="303.4" r="3.45"/><circle cx="272.1" cy="306.6" r="3.45"/><circle cx="273.4" cy="307.2" r="3.45"/><circle cx="274.6" cy="307.7" r="3.45"/><circle cx="275.8" cy="307.3" r="3.45"/><circle cx="277.0" cy="304.7" r="3.45"/><circle cx="278.2" cy="302.4" r="3.45"/><circle cx="279.5" cy="304.3" r="3.45"/><circle cx="280.7" cy="304.5" r="3.45"/><circle cx="281.9" cy="301.2" r="3.45"/><circle cx="283.1" cy="305.6" r="3.45"/><circle cx="284.3" cy="305.7" r="3.45"/><circle cx="285.5" cy="303.7" r="3.45"/><circle cx="286.8" cy="303.6" r="3.45"/><circle cx="288.0" cy="306.0" r="3.45"/><circle cx="289.2" cy="306.1" r="3.45"/><circle cx="290.4" cy="303.7" r="3.45"/><circle cx="291.6" cy="303.7" r="3.45"/><circle cx="292.8" cy="306.1" r="3.45"/><circle cx="294.1" cy="304.2" r="3.45"/><circle cx="295.3" cy="304.6" r="3.45"/><circle cx="296.5" cy="302.9" r="3.45"/><circle cx="297.7" cy="303.8" r="3.45"/><circle cx="298.9" cy="303.6" r="3.45"/><circle cx="300.1" cy="303.9" r="3.45"/><circle cx="301.4" cy="301.6" r="3.45"/><circle cx="302.6" cy="300.9" r="3.45"/><circle cx="303.8" cy="303.7" r="3.45"/><circle cx="305.0" cy="301.6" r="3.45"/><circle cx="306.2" cy="304.1" r="3.45"/><circle cx="307.5" cy="302.7" r="3.45"/><circle cx="308.7" cy="301.5" r="3.45"/><circle cx="309.9" cy="300.1" r="3.45"/><circle cx="311.1" cy="303.1" r="3.45"/><circle cx="312.3" cy="302.5" r="3.45"/><circle cx="313.5" cy="302.0" r="3.45"/><circle cx="314.8" cy="304.6" r="3.45"/><circle cx="316.0" cy="302.1" r="3.45"/><circle cx="317.2" cy="303.1" r="3.45"/><circle cx="318.4" cy="301.3" r="3.45"/><circle cx="319.6" cy="303.6" r="3.45"/><circle cx="320.8" cy="304.9" r="3.45"/><circle cx="322.1" cy="301.6" r="3.45"/><circle cx="315.7" cy="296.6" r="3.45"/><circle cx="220.3" cy="311.0" r="3.45"/></g>
<g fill="#fff" stroke="#2a2ab8" stroke-width="1.3"><circle cx="179.7" cy="328.0" r="3.45"/><circle cx="180.9" cy="328.1" r="3.45"/><circle cx="182.1" cy="327.7" r="3.45"/><circle cx="183.4" cy="333.5" r="3.45"/><circle cx="184.6" cy="328.7" r="3.45"/><circle cx="185.8" cy="328.0" r="3.45"/><circle cx="187.0" cy="324.2" r="3.45"/><circle cx="188.2" cy="330.3" r="3.45"/><circle cx="189.5" cy="329.1" r="3.45"/><circle cx="190.7" cy="328.3" r="3.45"/><circle cx="191.9" cy="326.7" r="3.45"/><circle cx="193.1" cy="328.9" r="3.45"/><circle cx="194.3" cy="325.9" r="3.45"/><circle cx="195.5" cy="329.3" r="3.45"/><circle cx="196.8" cy="327.3" r="3.45"/><circle cx="198.0" cy="328.6" r="3.45"/><circle cx="199.2" cy="327.2" r="3.45"/><circle cx="200.4" cy="328.6" r="3.45"/><circle cx="201.6" cy="330.1" r="3.45"/><circle cx="202.8" cy="325.2" r="3.45"/><circle cx="204.1" cy="326.5" r="3.45"/><circle cx="205.3" cy="327.9" r="3.45"/><circle cx="206.5" cy="326.4" r="3.45"/><circle cx="207.7" cy="324.9" r="3.45"/><circle cx="208.9" cy="328.3" r="3.45"/><circle cx="210.2" cy="326.6" r="3.45"/><circle cx="211.4" cy="325.3" r="3.45"/><circle cx="212.6" cy="325.2" r="3.45"/><circle cx="213.8" cy="326.6" r="3.45"/><circle cx="215.0" cy="329.7" r="3.45"/><circle cx="216.2" cy="323.6" r="3.45"/><circle cx="217.5" cy="325.1" r="3.45"/><circle cx="218.7" cy="325.6" r="3.45"/><circle cx="219.9" cy="326.0" r="3.45"/><circle cx="221.1" cy="325.0" r="3.45"/><circle cx="222.3" cy="326.1" r="3.45"/><circle cx="223.5" cy="327.1" r="3.45"/><circle cx="224.8" cy="326.5" r="3.45"/><circle cx="226.0" cy="326.1" r="3.45"/><circle cx="227.2" cy="326.1" r="3.45"/><circle cx="228.4" cy="326.9" r="3.45"/><circle cx="229.6" cy="323.6" r="3.45"/><circle cx="230.8" cy="327.0" r="3.45"/><circle cx="232.1" cy="323.4" r="3.45"/><circle cx="233.3" cy="326.3" r="3.45"/><circle cx="234.5" cy="323.7" r="3.45"/><circle cx="235.7" cy="321.8" r="3.45"/><circle cx="236.9" cy="323.8" r="3.45"/><circle cx="238.2" cy="325.4" r="3.45"/><circle cx="239.4" cy="323.9" r="3.45"/><circle cx="240.6" cy="323.6" r="3.45"/><circle cx="241.8" cy="326.9" r="3.45"/><circle cx="243.0" cy="324.8" r="3.45"/><circle cx="244.2" cy="323.3" r="3.45"/><circle cx="245.5" cy="324.4" r="3.45"/><circle cx="246.7" cy="323.4" r="3.45"/><circle cx="247.9" cy="322.1" r="3.45"/><circle cx="249.1" cy="322.0" r="3.45"/><circle cx="250.3" cy="321.8" r="3.45"/><circle cx="251.5" cy="322.3" r="3.45"/><circle cx="252.8" cy="323.8" r="3.45"/><circle cx="254.0" cy="323.3" r="3.45"/><circle cx="255.2" cy="323.7" r="3.45"/><circle cx="256.4" cy="323.7" r="3.45"/><circle cx="257.6" cy="323.5" r="3.45"/><circle cx="258.9" cy="326.2" r="3.45"/><circle cx="260.1" cy="323.7" r="3.45"/><circle cx="261.3" cy="323.1" r="3.45"/><circle cx="262.5" cy="324.7" r="3.45"/><circle cx="263.7" cy="323.0" r="3.45"/><circle cx="264.9" cy="322.0" r="3.45"/><circle cx="266.2" cy="323.2" r="3.45"/><circle cx="267.4" cy="319.1" r="3.45"/><circle cx="268.6" cy="327.5" r="3.45"/><circle cx="269.8" cy="323.1" r="3.45"/><circle cx="271.0" cy="326.0" r="3.45"/><circle cx="272.2" cy="320.9" r="3.45"/><circle cx="273.5" cy="317.8" r="3.45"/><circle cx="274.7" cy="327.1" r="3.45"/><circle cx="275.9" cy="322.3" r="3.45"/><circle cx="277.1" cy="321.6" r="3.45"/><circle cx="278.3" cy="323.1" r="3.45"/><circle cx="279.5" cy="321.6" r="3.45"/><circle cx="280.8" cy="326.7" r="3.45"/><circle cx="282.0" cy="321.2" r="3.45"/><circle cx="283.2" cy="322.1" r="3.45"/><circle cx="284.4" cy="322.8" r="3.45"/><circle cx="285.6" cy="324.0" r="3.45"/><circle cx="286.9" cy="321.8" r="3.45"/><circle cx="288.1" cy="323.9" r="3.45"/><circle cx="289.3" cy="322.7" r="3.45"/><circle cx="290.5" cy="324.1" r="3.45"/><circle cx="291.7" cy="327.3" r="3.45"/><circle cx="292.9" cy="323.3" r="3.45"/><circle cx="294.2" cy="323.0" r="3.45"/><circle cx="295.4" cy="322.0" r="3.45"/><circle cx="296.6" cy="325.0" r="3.45"/><circle cx="297.8" cy="323.6" r="3.45"/><circle cx="299.0" cy="322.5" r="3.45"/><circle cx="300.2" cy="323.4" r="3.45"/><circle cx="301.5" cy="321.5" r="3.45"/><circle cx="302.7" cy="320.2" r="3.45"/><circle cx="303.9" cy="325.4" r="3.45"/><circle cx="305.1" cy="327.3" r="3.45"/><circle cx="306.3" cy="322.4" r="3.45"/><circle cx="307.6" cy="321.2" r="3.45"/><circle cx="308.8" cy="322.4" r="3.45"/><circle cx="310.0" cy="322.6" r="3.45"/><circle cx="311.2" cy="325.3" r="3.45"/><circle cx="312.4" cy="325.5" r="3.45"/><circle cx="313.6" cy="322.7" r="3.45"/><circle cx="314.9" cy="326.0" r="3.45"/><circle cx="316.1" cy="327.7" r="3.45"/><circle cx="317.3" cy="326.2" r="3.45"/><circle cx="318.5" cy="320.0" r="3.45"/><circle cx="319.7" cy="321.1" r="3.45"/><circle cx="320.9" cy="325.9" r="3.45"/><circle cx="322.2" cy="326.0" r="3.45"/></g>
<g fill="#fff" stroke="#ff3399" stroke-width="1.3"><circle cx="110.7" cy="347.2" r="3.45"/><circle cx="111.9" cy="345.5" r="3.45"/><circle cx="113.1" cy="340.8" r="3.45"/><circle cx="114.4" cy="340.6" r="3.45"/><circle cx="115.6" cy="341.8" r="3.45"/><circle cx="116.8" cy="337.3" r="3.45"/><circle cx="118.0" cy="339.9" r="3.45"/><circle cx="119.2" cy="335.0" r="3.45"/><circle cx="120.4" cy="331.4" r="3.45"/><circle cx="121.7" cy="328.5" r="3.45"/><circle cx="122.9" cy="329.5" r="3.45"/><circle cx="124.1" cy="326.9" r="3.45"/><circle cx="125.3" cy="324.3" r="3.45"/><circle cx="126.5" cy="323.0" r="3.45"/><circle cx="127.8" cy="321.0" r="3.45"/><circle cx="129.0" cy="320.4" r="3.45"/><circle cx="130.2" cy="320.0" r="3.45"/><circle cx="131.4" cy="316.4" r="3.45"/><circle cx="132.6" cy="316.4" r="3.45"/><circle cx="133.8" cy="316.8" r="3.45"/><circle cx="135.1" cy="315.4" r="3.45"/><circle cx="136.3" cy="313.2" r="3.45"/><circle cx="137.5" cy="312.5" r="3.45"/><circle cx="138.7" cy="311.0" r="3.45"/><circle cx="139.9" cy="310.4" r="3.45"/><circle cx="141.1" cy="309.1" r="3.45"/><circle cx="142.4" cy="308.8" r="3.45"/><circle cx="143.6" cy="310.0" r="3.45"/><circle cx="144.8" cy="305.8" r="3.45"/><circle cx="146.0" cy="303.6" r="3.45"/><circle cx="147.2" cy="303.9" r="3.45"/><circle cx="148.4" cy="304.2" r="3.45"/><circle cx="149.7" cy="302.0" r="3.45"/><circle cx="150.9" cy="303.8" r="3.45"/><circle cx="152.1" cy="304.7" r="3.45"/><circle cx="153.3" cy="300.1" r="3.45"/><circle cx="154.5" cy="301.6" r="3.45"/><circle cx="155.8" cy="297.8" r="3.45"/><circle cx="157.0" cy="300.8" r="3.45"/><circle cx="158.2" cy="303.4" r="3.45"/><circle cx="159.4" cy="299.7" r="3.45"/><circle cx="160.6" cy="294.0" r="3.45"/><circle cx="161.8" cy="297.4" r="3.45"/><circle cx="163.1" cy="298.8" r="3.45"/><circle cx="164.3" cy="297.1" r="3.45"/><circle cx="165.5" cy="294.0" r="3.45"/><circle cx="166.7" cy="293.6" r="3.45"/><circle cx="167.9" cy="293.7" r="3.45"/><circle cx="169.1" cy="290.6" r="3.45"/><circle cx="170.4" cy="291.6" r="3.45"/><circle cx="171.6" cy="292.5" r="3.45"/><circle cx="172.8" cy="290.8" r="3.45"/><circle cx="174.0" cy="288.2" r="3.45"/><circle cx="175.2" cy="289.0" r="3.45"/><circle cx="176.4" cy="288.4" r="3.45"/><circle cx="177.7" cy="292.0" r="3.45"/><circle cx="178.9" cy="289.7" r="3.45"/><circle cx="180.1" cy="287.4" r="3.45"/><circle cx="181.3" cy="288.9" r="3.45"/><circle cx="182.5" cy="285.9" r="3.45"/><circle cx="183.8" cy="286.5" r="3.45"/><circle cx="185.0" cy="285.5" r="3.45"/><circle cx="186.2" cy="287.4" r="3.45"/><circle cx="187.4" cy="281.6" r="3.45"/><circle cx="188.6" cy="283.8" r="3.45"/><circle cx="189.8" cy="286.4" r="3.45"/><circle cx="191.1" cy="285.4" r="3.45"/><circle cx="192.3" cy="280.1" r="3.45"/><circle cx="193.5" cy="285.6" r="3.45"/><circle cx="194.7" cy="282.8" r="3.45"/><circle cx="195.9" cy="282.3" r="3.45"/><circle cx="197.1" cy="283.8" r="3.45"/><circle cx="198.4" cy="285.8" r="3.45"/><circle cx="199.6" cy="282.8" r="3.45"/><circle cx="200.8" cy="282.1" r="3.45"/><circle cx="202.0" cy="280.2" r="3.45"/><circle cx="203.2" cy="280.6" r="3.45"/><circle cx="204.5" cy="281.7" r="3.45"/><circle cx="205.7" cy="279.7" r="3.45"/><circle cx="206.9" cy="280.0" r="3.45"/><circle cx="208.1" cy="280.3" r="3.45"/><circle cx="209.3" cy="280.3" r="3.45"/><circle cx="210.5" cy="280.5" r="3.45"/><circle cx="211.8" cy="278.3" r="3.45"/><circle cx="213.0" cy="281.4" r="3.45"/><circle cx="214.2" cy="280.4" r="3.45"/><circle cx="215.4" cy="278.9" r="3.45"/><circle cx="216.6" cy="281.6" r="3.45"/><circle cx="217.8" cy="279.4" r="3.45"/><circle cx="219.1" cy="282.3" r="3.45"/><circle cx="220.3" cy="279.5" r="3.45"/><circle cx="221.5" cy="276.8" r="3.45"/><circle cx="222.7" cy="276.6" r="3.45"/><circle cx="223.9" cy="277.6" r="3.45"/><circle cx="225.2" cy="277.7" r="3.45"/><circle cx="226.4" cy="279.9" r="3.45"/><circle cx="227.6" cy="273.3" r="3.45"/><circle cx="228.8" cy="275.6" r="3.45"/><circle cx="230.0" cy="274.3" r="3.45"/><circle cx="231.2" cy="278.0" r="3.45"/><circle cx="232.5" cy="276.4" r="3.45"/><circle cx="233.7" cy="279.4" r="3.45"/><circle cx="234.9" cy="274.1" r="3.45"/><circle cx="236.1" cy="273.6" r="3.45"/><circle cx="237.3" cy="279.0" r="3.45"/><circle cx="238.5" cy="275.1" r="3.45"/><circle cx="239.8" cy="273.5" r="3.45"/><circle cx="241.0" cy="278.1" r="3.45"/><circle cx="242.2" cy="278.0" r="3.45"/><circle cx="243.4" cy="276.3" r="3.45"/><circle cx="244.6" cy="275.2" r="3.45"/><circle cx="245.8" cy="276.6" r="3.45"/><circle cx="247.1" cy="273.6" r="3.45"/><circle cx="248.3" cy="273.1" r="3.45"/><circle cx="249.5" cy="272.2" r="3.45"/><circle cx="250.7" cy="271.9" r="3.45"/><circle cx="251.9" cy="270.2" r="3.45"/><circle cx="253.2" cy="270.7" r="3.45"/><circle cx="254.4" cy="275.5" r="3.45"/><circle cx="255.6" cy="273.7" r="3.45"/><circle cx="256.8" cy="274.7" r="3.45"/><circle cx="258.0" cy="274.6" r="3.45"/><circle cx="259.2" cy="272.5" r="3.45"/><circle cx="260.5" cy="272.2" r="3.45"/><circle cx="261.7" cy="271.1" r="3.45"/><circle cx="262.9" cy="275.1" r="3.45"/><circle cx="264.1" cy="274.2" r="3.45"/><circle cx="265.3" cy="271.7" r="3.45"/><circle cx="266.5" cy="271.9" r="3.45"/><circle cx="267.8" cy="272.0" r="3.45"/><circle cx="269.0" cy="271.4" r="3.45"/><circle cx="270.2" cy="272.6" r="3.45"/><circle cx="271.4" cy="269.6" r="3.45"/><circle cx="272.6" cy="270.1" r="3.45"/><circle cx="273.9" cy="270.9" r="3.45"/><circle cx="275.1" cy="271.9" r="3.45"/><circle cx="276.3" cy="270.8" r="3.45"/><circle cx="277.5" cy="275.7" r="3.45"/><circle cx="278.7" cy="272.2" r="3.45"/><circle cx="279.9" cy="270.1" r="3.45"/><circle cx="281.2" cy="273.1" r="3.45"/><circle cx="282.4" cy="269.7" r="3.45"/><circle cx="283.6" cy="269.7" r="3.45"/><circle cx="284.8" cy="272.6" r="3.45"/><circle cx="286.0" cy="270.3" r="3.45"/><circle cx="287.2" cy="270.4" r="3.45"/><circle cx="288.5" cy="268.8" r="3.45"/><circle cx="289.7" cy="268.4" r="3.45"/><circle cx="290.9" cy="269.7" r="3.45"/><circle cx="292.1" cy="271.2" r="3.45"/><circle cx="293.3" cy="269.7" r="3.45"/><circle cx="294.5" cy="269.5" r="3.45"/><circle cx="295.8" cy="267.9" r="3.45"/><circle cx="297.0" cy="268.7" r="3.45"/><circle cx="298.2" cy="270.6" r="3.45"/><circle cx="299.4" cy="271.8" r="3.45"/><circle cx="300.6" cy="269.8" r="3.45"/><circle cx="301.9" cy="270.4" r="3.45"/><circle cx="303.1" cy="271.1" r="3.45"/><circle cx="304.3" cy="269.1" r="3.45"/><circle cx="305.5" cy="269.7" r="3.45"/><circle cx="306.7" cy="268.5" r="3.45"/><circle cx="307.9" cy="267.6" r="3.45"/><circle cx="309.2" cy="269.4" r="3.45"/><circle cx="310.4" cy="263.9" r="3.45"/><circle cx="311.6" cy="269.1" r="3.45"/><circle cx="312.8" cy="266.2" r="3.45"/><circle cx="314.0" cy="268.0" r="3.45"/><circle cx="315.2" cy="266.0" r="3.45"/><circle cx="316.5" cy="272.8" r="3.45"/><circle cx="317.7" cy="269.6" r="3.45"/><circle cx="318.9" cy="267.5" r="3.45"/><circle cx="320.1" cy="266.7" r="3.45"/><circle cx="321.3" cy="263.2" r="3.45"/><circle cx="322.6" cy="267.2" r="3.45"/><circle cx="316.7" cy="256.4" r="3.45"/><circle cx="256.8" cy="267.1" r="3.45"/></g>
<g fill="#fff" stroke="#111" stroke-width="1.3"><path d="M104.0,373.5 L105.1,368.5 L105.9,359.9 L107.5,354.9 L108.3,339.8 L109.4,314.6 L110.7,292.3 L112.3,284.0 L113.6,272.2 L114.7,265.0 L116.3,254.9 L117.5,251.0 L117.5,247.4 L118.7,244.7 L120.0,243.4" fill="none" stroke="#555" stroke-width="0.8"/><circle cx="104.0" cy="373.5" r="3.45"/><circle cx="105.1" cy="368.5" r="3.45"/><circle cx="105.9" cy="359.9" r="3.45"/><circle cx="107.5" cy="354.9" r="3.45"/><circle cx="108.3" cy="339.8" r="3.45"/><circle cx="109.4" cy="314.6" r="3.45"/><circle cx="110.7" cy="292.3" r="3.45"/><circle cx="112.3" cy="284.0" r="3.45"/><circle cx="113.6" cy="272.2" r="3.45"/><circle cx="114.7" cy="265.0" r="3.45"/><circle cx="116.3" cy="254.9" r="3.45"/><circle cx="117.5" cy="251.0" r="3.45"/><circle cx="117.5" cy="247.4" r="3.45"/><circle cx="118.7" cy="244.7" r="3.45"/><circle cx="120.0" cy="243.4" r="3.45"/><circle cx="121.2" cy="230.9" r="3.45"/><circle cx="122.4" cy="234.6" r="3.45"/><circle cx="123.6" cy="227.4" r="3.45"/><circle cx="124.8" cy="227.9" r="3.45"/><circle cx="126.0" cy="224.6" r="3.45"/><circle cx="127.3" cy="220.9" r="3.45"/><circle cx="128.5" cy="219.7" r="3.45"/><circle cx="129.7" cy="216.4" r="3.45"/><circle cx="130.9" cy="219.1" r="3.45"/><circle cx="132.1" cy="216.7" r="3.45"/><circle cx="133.4" cy="209.4" r="3.45"/><circle cx="134.6" cy="211.2" r="3.45"/><circle cx="135.8" cy="209.7" r="3.45"/><circle cx="137.0" cy="209.1" r="3.45"/><circle cx="138.2" cy="201.0" r="3.45"/><circle cx="139.4" cy="200.5" r="3.45"/><circle cx="140.7" cy="197.1" r="3.45"/><circle cx="141.9" cy="201.4" r="3.45"/><circle cx="143.1" cy="198.2" r="3.45"/><circle cx="144.3" cy="199.9" r="3.45"/><circle cx="145.5" cy="194.4" r="3.45"/><circle cx="146.7" cy="191.5" r="3.45"/><circle cx="148.0" cy="196.4" r="3.45"/><circle cx="149.2" cy="189.7" r="3.45"/><circle cx="150.4" cy="190.0" r="3.45"/><circle cx="151.6" cy="191.8" r="3.45"/><circle cx="152.8" cy="195.1" r="3.45"/><circle cx="154.0" cy="186.7" r="3.45"/><circle cx="155.3" cy="189.6" r="3.45"/><circle cx="156.5" cy="190.3" r="3.45"/><circle cx="157.7" cy="187.5" r="3.45"/><circle cx="158.9" cy="186.9" r="3.45"/><circle cx="160.1" cy="183.8" r="3.45"/><circle cx="161.4" cy="189.2" r="3.45"/><circle cx="162.6" cy="183.7" r="3.45"/><circle cx="163.8" cy="182.3" r="3.45"/><circle cx="165.0" cy="181.9" r="3.45"/><circle cx="166.2" cy="185.2" r="3.45"/><circle cx="167.4" cy="185.9" r="3.45"/><circle cx="168.7" cy="181.3" r="3.45"/><circle cx="169.9" cy="182.8" r="3.45"/><circle cx="171.1" cy="182.3" r="3.45"/><circle cx="172.3" cy="178.7" r="3.45"/><circle cx="173.5" cy="182.1" r="3.45"/><circle cx="174.7" cy="186.3" r="3.45"/><circle cx="176.0" cy="181.3" r="3.45"/><circle cx="177.2" cy="184.2" r="3.45"/><circle cx="178.4" cy="177.4" r="3.45"/><circle cx="179.6" cy="178.0" r="3.45"/><circle cx="180.8" cy="179.6" r="3.45"/><circle cx="182.1" cy="177.8" r="3.45"/><circle cx="183.3" cy="175.5" r="3.45"/><circle cx="184.5" cy="176.9" r="3.45"/><circle cx="185.7" cy="173.7" r="3.45"/><circle cx="186.9" cy="176.6" r="3.45"/><circle cx="188.1" cy="173.7" r="3.45"/><circle cx="189.4" cy="172.3" r="3.45"/><circle cx="190.6" cy="171.7" r="3.45"/><circle cx="191.8" cy="176.7" r="3.45"/><circle cx="193.0" cy="172.8" r="3.45"/><circle cx="194.2" cy="178.9" r="3.45"/><circle cx="195.4" cy="176.7" r="3.45"/><circle cx="196.7" cy="178.4" r="3.45"/><circle cx="197.9" cy="171.1" r="3.45"/><circle cx="199.1" cy="176.3" r="3.45"/><circle cx="200.3" cy="173.3" r="3.45"/><circle cx="201.5" cy="173.5" r="3.45"/><circle cx="202.7" cy="172.9" r="3.45"/><circle cx="204.0" cy="174.1" r="3.45"/><circle cx="205.2" cy="172.0" r="3.45"/><circle cx="206.4" cy="168.2" r="3.45"/><circle cx="207.6" cy="172.1" r="3.45"/><circle cx="208.8" cy="170.7" r="3.45"/><circle cx="210.1" cy="169.5" r="3.45"/><circle cx="211.3" cy="172.1" r="3.45"/><circle cx="212.5" cy="174.4" r="3.45"/><circle cx="213.7" cy="172.6" r="3.45"/><circle cx="214.9" cy="168.6" r="3.45"/><circle cx="216.1" cy="174.7" r="3.45"/><circle cx="217.4" cy="172.1" r="3.45"/><circle cx="218.6" cy="168.2" r="3.45"/><circle cx="219.8" cy="168.5" r="3.45"/><circle cx="221.0" cy="170.2" r="3.45"/><circle cx="222.2" cy="168.1" r="3.45"/><circle cx="223.4" cy="169.4" r="3.45"/><circle cx="224.7" cy="172.4" r="3.45"/><circle cx="225.9" cy="173.1" r="3.45"/><circle cx="227.1" cy="170.8" r="3.45"/><circle cx="228.3" cy="166.9" r="3.45"/><circle cx="229.5" cy="170.3" r="3.45"/><circle cx="230.8" cy="170.9" r="3.45"/><circle cx="232.0" cy="170.5" r="3.45"/><circle cx="233.2" cy="172.1" r="3.45"/><circle cx="234.4" cy="168.7" r="3.45"/><circle cx="235.6" cy="171.0" r="3.45"/><circle cx="236.8" cy="167.3" r="3.45"/><circle cx="238.1" cy="173.5" r="3.45"/><circle cx="239.3" cy="167.1" r="3.45"/><circle cx="240.5" cy="169.2" r="3.45"/><circle cx="241.7" cy="172.1" r="3.45"/><circle cx="242.9" cy="165.7" r="3.45"/><circle cx="244.1" cy="167.9" r="3.45"/><circle cx="245.4" cy="172.4" r="3.45"/><circle cx="246.6" cy="169.1" r="3.45"/><circle cx="247.8" cy="166.2" r="3.45"/><circle cx="249.0" cy="167.8" r="3.45"/><circle cx="250.2" cy="164.8" r="3.45"/><circle cx="251.4" cy="164.7" r="3.45"/><circle cx="252.7" cy="164.8" r="3.45"/><circle cx="253.9" cy="165.5" r="3.45"/><circle cx="255.1" cy="163.0" r="3.45"/><circle cx="256.3" cy="164.4" r="3.45"/><circle cx="257.5" cy="164.8" r="3.45"/><circle cx="258.8" cy="170.5" r="3.45"/><circle cx="260.0" cy="163.4" r="3.45"/><circle cx="261.2" cy="162.3" r="3.45"/><circle cx="262.4" cy="166.0" r="3.45"/><circle cx="263.6" cy="166.2" r="3.45"/><circle cx="264.8" cy="160.4" r="3.45"/><circle cx="266.1" cy="169.0" r="3.45"/><circle cx="267.3" cy="163.6" r="3.45"/><circle cx="268.5" cy="158.9" r="3.45"/><circle cx="269.7" cy="166.6" r="3.45"/><circle cx="270.9" cy="162.7" r="3.45"/><circle cx="272.1" cy="159.7" r="3.45"/><circle cx="273.4" cy="164.3" r="3.45"/><circle cx="274.6" cy="162.6" r="3.45"/><circle cx="275.8" cy="161.6" r="3.45"/><circle cx="277.0" cy="165.7" r="3.45"/><circle cx="278.2" cy="163.7" r="3.45"/><circle cx="279.5" cy="162.6" r="3.45"/><circle cx="280.7" cy="161.3" r="3.45"/><circle cx="281.9" cy="163.1" r="3.45"/><circle cx="283.1" cy="163.4" r="3.45"/><circle cx="284.3" cy="165.1" r="3.45"/><circle cx="285.5" cy="163.5" r="3.45"/><circle cx="286.8" cy="160.4" r="3.45"/><circle cx="288.0" cy="162.1" r="3.45"/><circle cx="289.2" cy="164.2" r="3.45"/><circle cx="290.4" cy="164.0" r="3.45"/><circle cx="291.6" cy="155.7" r="3.45"/><circle cx="292.8" cy="159.1" r="3.45"/><circle cx="294.1" cy="160.3" r="3.45"/><circle cx="295.3" cy="167.9" r="3.45"/><circle cx="296.5" cy="160.4" r="3.45"/><circle cx="297.7" cy="160.7" r="3.45"/><circle cx="298.9" cy="157.9" r="3.45"/><circle cx="300.1" cy="160.8" r="3.45"/><circle cx="301.4" cy="162.0" r="3.45"/><circle cx="302.6" cy="160.6" r="3.45"/><circle cx="303.8" cy="166.3" r="3.45"/><circle cx="305.0" cy="159.4" r="3.45"/><circle cx="306.2" cy="161.0" r="3.45"/><circle cx="307.5" cy="163.4" r="3.45"/><circle cx="308.7" cy="158.7" r="3.45"/><circle cx="309.9" cy="157.6" r="3.45"/><circle cx="311.1" cy="165.1" r="3.45"/><circle cx="312.3" cy="163.4" r="3.45"/><circle cx="313.5" cy="161.1" r="3.45"/><circle cx="314.8" cy="161.4" r="3.45"/><circle cx="316.0" cy="162.7" r="3.45"/><circle cx="317.2" cy="164.1" r="3.45"/><circle cx="318.4" cy="156.8" r="3.45"/><circle cx="319.6" cy="159.4" r="3.45"/><circle cx="320.8" cy="164.6" r="3.45"/><circle cx="322.1" cy="164.9" r="3.45"/><circle cx="170.1" cy="171.5" r="3.45"/><circle cx="172.1" cy="173.7" r="3.45"/><circle cx="194.5" cy="167.2" r="3.45"/><circle cx="220.3" cy="161.8" r="3.45"/><circle cx="241.2" cy="155.0" r="3.45"/><circle cx="259.2" cy="154.6" r="3.45"/><circle cx="302.6" cy="149.9" r="3.45"/><circle cx="312.3" cy="152.8" r="3.45"/><circle cx="317.7" cy="154.6" r="3.45"/><circle cx="251.4" cy="160.0" r="3.45"/></g>
<rect x="79.5" y="56.5" width="267.0" height="340.5" fill="none" stroke="#000" stroke-width="1.3"/>
<text transform="translate(74.90,383.90) scale(0.86,1)" font-size="16.8" text-anchor="end">0</text>
<text transform="translate(74.90,312.00) scale(0.86,1)" font-size="16.8" text-anchor="end">2</text>
<text transform="translate(74.90,240.10) scale(0.86,1)" font-size="16.8" text-anchor="end">4</text>
<text transform="translate(74.90,168.20) scale(0.86,1)" font-size="16.8" text-anchor="end">6</text>
<text transform="translate(74.90,96.30) scale(0.86,1)" font-size="16.8" text-anchor="end">8</text>
<text transform="translate(104.00,415.00) scale(0.88,1)" font-size="16.5" text-anchor="middle">0</text>
<text transform="translate(152.70,415.00) scale(0.88,1)" font-size="16.5" text-anchor="middle">10</text>
<text transform="translate(201.40,415.00) scale(0.88,1)" font-size="16.5" text-anchor="middle">20</text>
<text transform="translate(250.10,415.00) scale(0.88,1)" font-size="16.5" text-anchor="middle">30</text>
<text transform="translate(298.80,415.00) scale(0.88,1)" font-size="16.5" text-anchor="middle">40</text>
<path d="M79.5,379.3h5 M79.5,307.4h5 M79.5,235.5h5 M79.5,163.6h5 M79.5,91.7h5 M103.4,397.0v-6 M152.1,397.0v-6 M200.8,397.0v-6 M249.5,397.0v-6 M298.2,397.0v-6" stroke="#000" stroke-width="1.2" fill="none"/>
<text transform="translate(208.40,436.60) scale(0.88,1)" font-size="20.5" text-anchor="middle">t (h)</text>
<text transform="translate(54.40,228.30) rotate(-90) scale(0.88,1)" font-size="20.5" text-anchor="middle">ThT (a.u.)</text>
<path d="M102.1,74.5h34.4" stroke="#666" stroke-width="1.2"/>
<circle cx="119.2" cy="74.5" r="3.9" fill="#fff" stroke="#222" stroke-width="1.2"/>
<text transform="translate(140.90,79.40) scale(0.89,1)" font-size="15.4">SIF-EDTA</text>
<path d="M102.1,92.1h34.4" stroke="#ff66cc" stroke-width="1.2"/>
<circle cx="119.2" cy="92.1" r="3.9" fill="#fff" stroke="#ff3399" stroke-width="1.2"/>
<text transform="translate(140.90,97.00) scale(0.89,1)" font-size="15.4">SGIF-EDTA</text>
<path d="M102.1,112.5h34.4" stroke="#b266ff" stroke-width="1.2"/>
<circle cx="119.2" cy="112.5" r="3.9" fill="#fff" stroke="#9933ff" stroke-width="1.2"/>
<text transform="translate(140.90,117.40) scale(0.89,1)" font-size="15.4">SGIF-Ca<tspan font-size="10" dy="-6.5">2+</tspan></text>
<path d="M227.2,74.5h34.4" stroke="#66bbb4" stroke-width="1.2"/>
<circle cx="244.3" cy="74.5" r="3.9" fill="#1a7f77" stroke="#1a7f77" stroke-width="1.2"/>
<text transform="translate(266.00,79.40) scale(0.89,1)" font-size="15.4">SGF-EDTA</text>
<path d="M227.2,95.1h34.4" stroke="#7777dd" stroke-width="1.2"/>
<circle cx="244.3" cy="95.1" r="3.9" fill="#fff" stroke="#2a2ab8" stroke-width="1.2"/>
<text transform="translate(266.00,100.00) scale(0.89,1)" font-size="15.4">SGF-Ca<tspan font-size="10" dy="-6.5">2+</tspan></text>
<path d="M227.2,115.4h34.4" stroke="#f7b060" stroke-width="1.2"/>
<circle cx="244.3" cy="115.4" r="3.9" fill="#fff" stroke="#f7931e" stroke-width="1.2"/>
<text transform="translate(266.00,120.30) scale(0.89,1)" font-size="15.4">SIF-Ca<tspan font-size="10" dy="-6.5">2+</tspan></text>
</g>
<g id="B">
<text transform="translate(371.40,68.25) scale(0.906,1)" font-size="47.7" stroke="#000" stroke-width="0.6">B</text>
<path d="M434.9,109.5V105.2M433.1,105.2h3.6" stroke="#888" stroke-width="0.9" fill="none"/>
<rect x="426.5" y="109.5" width="16.7" height="209.5" fill="#a5a5a5" stroke="#333" stroke-width="0.9"/>
<path d="M451.6,107.4V103.1M449.8,103.1h3.6" stroke="#888" stroke-width="0.9" fill="none"/>
<rect x="443.2" y="107.4" width="16.7" height="211.6" fill="#ff8000" stroke="#333" stroke-width="0.9"/>
<path d="M476.9,268.8V258.1M475.1,258.1h3.6" stroke="#888" stroke-width="0.9" fill="none"/>
<rect x="468.5" y="268.8" width="16.7" height="50.2" fill="#a5a5a5" stroke="#333" stroke-width="0.9"/>
<path d="M493.6,239.7V229.2M491.8,229.2h3.6" stroke="#888" stroke-width="0.9" fill="none"/>
<rect x="485.2" y="239.7" width="16.7" height="79.3" fill="#ff8000" stroke="#333" stroke-width="0.9"/>
<path d="M519.0,306.2V301.3M517.2,301.3h3.6" stroke="#888" stroke-width="0.9" fill="none"/>
<rect x="510.6" y="306.2" width="16.7" height="12.8" fill="#a5a5a5" stroke="#333" stroke-width="0.9"/>
<path d="M535.7,284.6V278.2M533.9,278.2h3.6" stroke="#888" stroke-width="0.9" fill="none"/>
<rect x="527.3" y="284.6" width="16.7" height="34.4" fill="#ff8000" stroke="#333" stroke-width="0.9"/>
<path d="M561.2,304.0V299.8M559.5,299.8h3.6" stroke="#888" stroke-width="0.9" fill="none"/>
<rect x="552.9" y="304.0" width="16.7" height="15.0" fill="#a5a5a5" stroke="#333" stroke-width="0.9"/>
<path d="M578.0,282.7V278.0M576.2,278.0h3.6" stroke="#888" stroke-width="0.9" fill="none"/>
<rect x="569.6" y="282.7" width="16.7" height="36.3" fill="#ff8000" stroke="#333" stroke-width="0.9"/>
<path d="M603.6,259.1V248.5M601.8,248.5h3.6" stroke="#888" stroke-width="0.9" fill="none"/>
<rect x="595.2" y="259.1" width="16.7" height="59.9" fill="#a5a5a5" stroke="#333" stroke-width="0.9"/>
<path d="M620.3,158.5V147.6M618.5,147.6h3.6" stroke="#888" stroke-width="0.9" fill="none"/>
<rect x="611.9" y="158.5" width="16.7" height="160.5" fill="#ff8000" stroke="#333" stroke-width="0.9"/>
<path d="M645.8,301.9V293.4M644.0,293.4h3.6" stroke="#888" stroke-width="0.9" fill="none"/>
<rect x="637.4" y="301.9" width="16.7" height="17.1" fill="#a5a5a5" stroke="#333" stroke-width="0.9"/>
<path d="M662.5,233.5V220.7M660.7,220.7h3.6" stroke="#888" stroke-width="0.9" fill="none"/>
<rect x="654.1" y="233.5" width="16.7" height="85.5" fill="#ff8000" stroke="#333" stroke-width="0.9"/>
<path d="M414.0,94V319.0H684.5" fill="none" stroke="#111" stroke-width="1.3"/>
<path d="M414.0,276.2h4M414.0,233.5h4M414.0,190.8h4M414.0,148.0h4M414.0,105.2h4" stroke="#111" stroke-width="1.2"/>
<text transform="translate(408.80,280.25)" font-size="15.1" text-anchor="end">20</text>
<text transform="translate(408.80,237.50)" font-size="15.1" text-anchor="end">40</text>
<text transform="translate(408.80,194.75)" font-size="15.1" text-anchor="end">60</text>
<text transform="translate(408.80,152.00)" font-size="15.1" text-anchor="end">80</text>
<text transform="translate(408.80,109.25)" font-size="15.1" text-anchor="end">100</text>
<text transform="translate(378.30,217.00) rotate(-90) scale(0.95,1)" font-size="16.3" text-anchor="middle">% Soluble (100.000 g)</text>
<text transform="translate(449.00,328.20) rotate(-90) scale(0.86,1)" font-size="17.8" text-anchor="end">SIF-C</text>
<text transform="translate(491.20,328.20) rotate(-90) scale(0.86,1)" font-size="17.8" text-anchor="end">SIF-E</text>
<text transform="translate(533.50,328.20) rotate(-90) scale(0.86,1)" font-size="17.8" text-anchor="end">SGF-C</text>
<text transform="translate(575.80,328.20) rotate(-90) scale(0.86,1)" font-size="17.8" text-anchor="end">SGF-E</text>
<text transform="translate(618.10,328.20) rotate(-90) scale(0.86,1)" font-size="17.8" text-anchor="end">SGIF-C</text>
<text transform="translate(660.30,328.20) rotate(-90) scale(0.86,1)" font-size="17.8" text-anchor="end">SGIF-E</text>
<text transform="translate(475.00,253.00) scale(0.92,1)" font-size="16" text-anchor="middle">**</text>
<text transform="translate(518.30,293.60) scale(0.92,1)" font-size="16" text-anchor="middle">**</text>
<text transform="translate(561.00,291.40) scale(0.92,1)" font-size="16" text-anchor="middle">**</text>
<text transform="translate(603.50,243.90) scale(0.92,1)" font-size="16" text-anchor="middle">**</text>
<text transform="translate(645.80,286.40) scale(0.92,1)" font-size="16" text-anchor="middle">**</text>
<text transform="translate(660.60,218.30) scale(0.92,1)" font-size="16" text-anchor="middle">**</text>
<path d="M621.8,136.4H660.9V202.7" fill="none" stroke="#777" stroke-width="1"/>
<rect x="588.7" y="78.2" width="40.4" height="14.2" fill="#a5a5a5" stroke="#333" stroke-width="0.9"/>
<rect x="588.7" y="97.6" width="40.4" height="13.9" fill="#ff8000" stroke="#333" stroke-width="0.9"/>
<text transform="translate(685.00,90.80) scale(0.93,1)" font-size="16.0" text-anchor="end">140 μM</text>
<text transform="translate(685.00,110.10) scale(0.93,1)" font-size="16.0" text-anchor="end">3.5 μM</text>
</g>
<g id="C">
<text transform="translate(706.84,69.27) scale(0.787,1)" font-size="48.45" stroke="#000" stroke-width="0.6">C</text>
<defs><filter id="bl05" filterUnits="userSpaceOnUse" x="740" y="110" width="270" height="270"><feGaussianBlur stdDeviation="0.8"/></filter><filter id="bl1" filterUnits="userSpaceOnUse" x="740" y="110" width="270" height="270"><feGaussianBlur stdDeviation="1.2"/></filter><filter id="bl2" filterUnits="userSpaceOnUse" x="740" y="110" width="270" height="270"><feGaussianBlur stdDeviation="2.0"/></filter><filter id="bl3" filterUnits="userSpaceOnUse" x="740" y="110" width="270" height="270"><feGaussianBlur stdDeviation="3.0"/></filter><linearGradient id="smear" x1="0" y1="0" x2="0" y2="1"><stop offset="0" stop-color="#e6ac6a"/><stop offset="0.35" stop-color="#dcaa70"/><stop offset="0.75" stop-color="#c8a47a"/><stop offset="0.9" stop-color="#b08a58"/><stop offset="1" stop-color="#5a4028"/></linearGradient><linearGradient id="haze" x1="0" y1="0" x2="0" y2="1"><stop offset="0" stop-color="#e8d8c4" stop-opacity="0"/><stop offset="0.7" stop-color="#c8a888" stop-opacity="0.5"/><stop offset="1" stop-color="#5a4030" stop-opacity="0.9"/></linearGradient><linearGradient id="hazeW" x1="0" y1="0" x2="0" y2="1"><stop offset="0" stop-color="#e6c9a0" stop-opacity="0"/><stop offset="0.15" stop-color="#e6c9a0" stop-opacity="0.35"/><stop offset="0.85" stop-color="#e6c9a0" stop-opacity="0.35"/><stop offset="1" stop-color="#e6c9a0" stop-opacity="0"/></linearGradient><clipPath id="gelclip"><rect x="762.2" y="134.7" width="221.8" height="225.1"/></clipPath></defs>
<rect x="762.2" y="134.7" width="221.8" height="225.1" fill="#ede9e4"/>
<g clip-path="url(#gelclip)">
<rect x="757.2" y="129.7" width="231.8" height="17" fill="#d7d1c7" filter="url(#bl05)"/>
<rect x="774.5" y="146" width="27.5" height="205" fill="#ece2d6" opacity="0.7" filter="url(#bl2)"/>
<rect x="808.8" y="146" width="27.9" height="205" fill="#ece2d6" opacity="0.7" filter="url(#bl2)"/>
<rect x="843.6" y="146" width="25.4" height="205" fill="#ece2d6" opacity="0.7" filter="url(#bl2)"/>
<rect x="877.2" y="146" width="25.2" height="205" fill="#ece2d6" opacity="0.7" filter="url(#bl2)"/>
<rect x="909.2" y="146" width="33.4" height="205" fill="#ece2d6" opacity="0.7" filter="url(#bl2)"/>
<rect x="949.5" y="146" width="30.5" height="205" fill="#ece2d6" opacity="0.7" filter="url(#bl2)"/>
<rect x="775.5" y="160" width="25.5" height="85" fill="url(#hazeW)" opacity="0.6" filter="url(#bl2)"/>
<rect x="809.8" y="160" width="25.9" height="85" fill="url(#hazeW)" opacity="0.6" filter="url(#bl2)"/>
<rect x="878.2" y="160" width="23.2" height="85" fill="url(#hazeW)" opacity="0.35" filter="url(#bl2)"/>
<rect x="910.2" y="160" width="31.4" height="85" fill="url(#hazeW)" opacity="0.9" filter="url(#bl2)"/>
<rect x="950.5" y="160" width="28.5" height="85" fill="url(#hazeW)" opacity="0.8" filter="url(#bl2)"/>
<path d="M845,146 L868,146 L874,312 L851,312 Z" fill="url(#smear)" filter="url(#bl1)"/>
<path d="M847,150 L852,305 M866.5,150 L872.5,305" stroke="#8a6030" stroke-width="2" opacity="0.35" filter="url(#bl1)"/>
<path d="M856,150 L860,300 M861,150 L865,300" stroke="#b07a40" stroke-width="1.2" opacity="0.2" filter="url(#bl1)"/>
<rect x="851" y="290" width="23" height="18" fill="url(#haze)" filter="url(#bl1)"/>
<rect x="844.6" y="132" width="22.4" height="15" fill="#4a4538" filter="url(#bl05)"/>
<rect x="776.5" y="145.7" width="23.5" height="1.5" fill="#e0a060" opacity="0.28" filter="url(#bl05)"/>
<rect x="776.5" y="171.5" width="23.5" height="3" fill="#e8c8a8" opacity="0.28" filter="url(#bl05)"/>
<rect x="776.5" y="187.2" width="23.5" height="2.5" fill="#e8b890" opacity="0.36" filter="url(#bl05)"/>
<rect x="776.5" y="197.4" width="23.5" height="1.8" fill="#e89a28" opacity="0.76" filter="url(#bl05)"/>
<rect x="776.5" y="206.8" width="23.5" height="2.0" fill="#e08e20" opacity="0.76" filter="url(#bl05)"/>
<rect x="776.5" y="230.0" width="23.5" height="8" fill="#e6c08a" opacity="0.56" filter="url(#bl05)"/>
<rect x="776.5" y="238.1" width="23.5" height="2.2" fill="#d09850" opacity="0.48" filter="url(#bl05)"/>
<rect x="810.8" y="145.7" width="23.9" height="1.5" fill="#e0a060" opacity="0.30" filter="url(#bl05)"/>
<rect x="810.8" y="171.5" width="23.9" height="3" fill="#e8c8a8" opacity="0.30" filter="url(#bl05)"/>
<rect x="810.8" y="187.2" width="23.9" height="2.5" fill="#e8b890" opacity="0.38" filter="url(#bl05)"/>
<rect x="810.8" y="197.4" width="23.9" height="1.8" fill="#e89a28" opacity="0.81" filter="url(#bl05)"/>
<rect x="810.8" y="206.8" width="23.9" height="2.0" fill="#e08e20" opacity="0.81" filter="url(#bl05)"/>
<rect x="810.8" y="230.0" width="23.9" height="8" fill="#e6c08a" opacity="0.59" filter="url(#bl05)"/>
<rect x="810.8" y="238.1" width="23.9" height="2.2" fill="#d09850" opacity="0.51" filter="url(#bl05)"/>
<rect x="879.2" y="145.7" width="21.2" height="1.5" fill="#e0a060" opacity="0.19" filter="url(#bl05)"/>
<rect x="879.2" y="171.5" width="21.2" height="3" fill="#e8c8a8" opacity="0.19" filter="url(#bl05)"/>
<rect x="879.2" y="187.2" width="21.2" height="2.5" fill="#e8b890" opacity="0.25" filter="url(#bl05)"/>
<rect x="879.2" y="197.4" width="21.2" height="1.8" fill="#e89a28" opacity="0.52" filter="url(#bl05)"/>
<rect x="879.2" y="206.8" width="21.2" height="2.0" fill="#e08e20" opacity="0.52" filter="url(#bl05)"/>
<rect x="879.2" y="230.0" width="21.2" height="8" fill="#e6c08a" opacity="0.39" filter="url(#bl05)"/>
<rect x="879.2" y="238.1" width="21.2" height="2.2" fill="#d09850" opacity="0.33" filter="url(#bl05)"/>
<rect x="911.2" y="145.7" width="29.4" height="1.5" fill="#e0a060" opacity="0.35" filter="url(#bl05)"/>
<rect x="911.2" y="171.5" width="29.4" height="3" fill="#e8c8a8" opacity="0.35" filter="url(#bl05)"/>
<rect x="911.2" y="187.2" width="29.4" height="2.5" fill="#e8b890" opacity="0.45" filter="url(#bl05)"/>
<rect x="911.2" y="197.4" width="29.4" height="1.8" fill="#e89a28" opacity="0.95" filter="url(#bl05)"/>
<rect x="911.2" y="206.8" width="29.4" height="2.0" fill="#e08e20" opacity="0.95" filter="url(#bl05)"/>
<rect x="911.2" y="230.0" width="29.4" height="8" fill="#e6c08a" opacity="0.91" filter="url(#bl05)"/>
<rect x="911.2" y="238.1" width="29.4" height="2.2" fill="#d09850" opacity="0.78" filter="url(#bl05)"/>
<rect x="951.5" y="145.7" width="26.5" height="1.5" fill="#e0a060" opacity="0.33" filter="url(#bl05)"/>
<rect x="951.5" y="171.5" width="26.5" height="3" fill="#e8c8a8" opacity="0.33" filter="url(#bl05)"/>
<rect x="951.5" y="187.2" width="26.5" height="2.5" fill="#e8b890" opacity="0.43" filter="url(#bl05)"/>
<rect x="951.5" y="197.4" width="26.5" height="1.8" fill="#e89a28" opacity="0.90" filter="url(#bl05)"/>
<rect x="951.5" y="206.8" width="26.5" height="2.0" fill="#e08e20" opacity="0.90" filter="url(#bl05)"/>
<rect x="951.5" y="230.0" width="26.5" height="8" fill="#e6c08a" opacity="0.91" filter="url(#bl05)"/>
<rect x="951.5" y="238.1" width="26.5" height="2.2" fill="#d09850" opacity="0.78" filter="url(#bl05)"/>
<rect x="846" y="149.2" width="22" height="1.5" fill="#b07030" opacity="0.25" filter="url(#bl05)"/>
<rect x="846" y="157.2" width="22" height="1.5" fill="#b07030" opacity="0.25" filter="url(#bl05)"/>
<rect x="846" y="165.2" width="22" height="1.5" fill="#b07030" opacity="0.3" filter="url(#bl05)"/>
<rect x="846" y="175.2" width="22" height="1.5" fill="#b07030" opacity="0.3" filter="url(#bl05)"/>
<rect x="846" y="187.0" width="22" height="2" fill="#a86a28" opacity="0.55" filter="url(#bl05)"/>
<rect x="846" y="196.9" width="22" height="2.5" fill="#9a5a18" opacity="0.75" filter="url(#bl05)"/>
<rect x="846" y="206.8" width="22" height="2" fill="#9a5a18" opacity="0.6" filter="url(#bl05)"/>
<rect x="846" y="230.5" width="22" height="5" fill="#6a4418" opacity="0.8" filter="url(#bl05)"/>
<rect x="846" y="237.0" width="22" height="3" fill="#7a5020" opacity="0.7" filter="url(#bl05)"/>
<rect x="914" y="282" width="32" height="24" fill="url(#haze)" filter="url(#bl2)"/>
<rect x="953" y="288" width="28" height="20" fill="url(#haze)" opacity="0.8" filter="url(#bl2)"/>
<rect x="780" y="298" width="28" height="9" fill="url(#haze)" opacity="0.5" filter="url(#bl2)"/>
<rect x="816" y="299" width="28" height="9" fill="url(#haze)" opacity="0.5" filter="url(#bl2)"/>
<rect x="885" y="300" width="24" height="9" fill="url(#haze)" opacity="0.45" filter="url(#bl2)"/>
<rect x="781" y="337" width="25.0" height="12.0" fill="#d8b890" opacity="0.55" filter="url(#bl1)"/>
<rect x="818" y="338.6" width="24.0" height="12.4" fill="#d8b890" opacity="0.5" filter="url(#bl1)"/>
<rect x="855.5" y="322" width="18.5" height="14.0" fill="#dcc0a0" opacity="0.7" filter="url(#bl1)"/>
<rect x="886" y="323.6" width="22.0" height="10.9" fill="#e0c8a8" opacity="0.5" filter="url(#bl1)"/>
<rect x="917" y="340" width="29.0" height="11.0" fill="#d8b890" opacity="0.55" filter="url(#bl1)"/>
<rect x="954" y="342.7" width="26.0" height="9.6" fill="#d8b890" opacity="0.55" filter="url(#bl1)"/>
<rect x="779.8" y="327" width="26.6" height="6.2" rx="2" fill="#a07848" opacity="0.85" filter="url(#bl1)"/>
<rect x="818" y="329" width="24.5" height="7.0" rx="2" fill="#a07848" opacity="0.85" filter="url(#bl1)"/>
<rect x="916" y="327.7" width="30.0" height="8.3" rx="2" fill="#9a7040" opacity="0.85" filter="url(#bl1)"/>
<rect x="953" y="331.8" width="28.0" height="8.2" rx="2" fill="#9a7040" opacity="0.85" filter="url(#bl1)"/>
<rect x="779.8" y="318.9" width="26.6" height="6.8" rx="3" fill="#2c3228" opacity="0.95" filter="url(#bl1)"/>
<rect x="818" y="321" width="24.5" height="6.7" rx="3" fill="#2c3228" opacity="0.95" filter="url(#bl1)"/>
<rect x="917" y="318" width="29.0" height="9.7" rx="3" fill="#2c3228" opacity="0.95" filter="url(#bl1)"/>
<rect x="954" y="321" width="27.0" height="10.0" rx="3" fill="#2c3228" opacity="0.95" filter="url(#bl1)"/>
<rect x="777.5" y="305.7" width="31.8" height="12.0" rx="5.9" fill="#1e2822" filter="url(#bl05)"/>
<rect x="814.4" y="307.1" width="30.7" height="11.3" rx="5.6" fill="#1e2822" filter="url(#bl05)"/>
<rect x="850.5" y="307.8" width="26.5" height="14.0" rx="6.8" fill="#1e2822" filter="url(#bl05)"/>
<rect x="883.5" y="307.8" width="26.2" height="13.3" rx="6.5" fill="#1e2822" filter="url(#bl05)"/>
<rect x="914.1" y="305.0" width="33.8" height="17.0" rx="8.2" fill="#1e2822" filter="url(#bl05)"/>
<rect x="951.5" y="307.8" width="31.9" height="19.7" rx="9.4" fill="#1e2822" filter="url(#bl05)"/>
</g>
<text transform="translate(773.40,92.26) scale(0.835,1)" font-size="23.9" stroke="#000" stroke-width="0.45">SGF</text>
<text transform="translate(845.20,92.26) scale(0.835,1)" font-size="23.9" stroke="#000" stroke-width="0.45">SIF</text>
<text transform="translate(906.76,92.26) scale(0.872,1)" font-size="23.9" stroke="#000" stroke-width="0.45">SGIF</text>
<path d="M767.3,103.7H826.7M838.1,103.7H897.6M913.9,103.7H973.6" stroke="#000" stroke-width="2"/>
<text transform="translate(777.68,132.10) scale(0.802,1)" font-size="20.3" stroke="#000" stroke-width="0.45">E</text>
<text transform="translate(816.13,132.10) scale(0.866,1)" font-size="20.3" stroke="#000" stroke-width="0.45">C</text>
<text transform="translate(850.72,132.10) scale(0.776,1)" font-size="20.3" stroke="#000" stroke-width="0.45">E</text>
<text transform="translate(878.14,132.10) scale(0.858,1)" font-size="20.3" stroke="#000" stroke-width="0.45">C</text>
<text transform="translate(912.85,132.10) scale(0.758,1)" font-size="20.3" stroke="#000" stroke-width="0.45">E</text>
<text transform="translate(951.13,132.10) scale(0.866,1)" font-size="20.3" stroke="#000" stroke-width="0.45">C</text>
<text transform="translate(711.76,204.70) scale(1.04,1)" font-size="20.0" stroke="#000" stroke-width="0.15">50</text>
<text transform="translate(711.54,259.61) scale(1.04,1)" font-size="20.0" stroke="#000" stroke-width="0.15">20</text>
<text transform="translate(709.86,337.11) scale(1.04,1)" font-size="20.0" stroke="#000" stroke-width="0.15">10</text>
<path d="M748.3,141.3H759.2M748.3,158.6H759.2M748.3,178.1H759.2M748.3,200.5H759.2M748.3,228.6H759.2M748.3,254.6H759.2M748.3,289.9H759.2M748.3,333.7H759.2" stroke="#000" stroke-width="1.8"/>
<path d="M987.9,141.3H993.1V235.2H987.9M993.1,187.7H999.6" fill="none" stroke="#000" stroke-width="1.8"/>
</g>
<g id="D">
<text transform="translate(20.67,465.55) scale(0.902,1)" font-size="48.3" stroke="#000" stroke-width="0.6">D</text>
<path d="M108.0,627.2 L110.5,653.2 L112.9,677.1 L115.4,694.4 L117.8,703.8 L120.3,713.2 L122.8,723.8 L125.2,735.9 L127.7,744.3 L130.1,747.0 L132.6,749.7 L135.1,751.0 L137.5,750.4 L140.0,749.7 L142.4,749.1 L144.9,747.8 L147.4,743.8 L149.8,739.9 L152.3,735.9 L154.7,732.2 L157.2,728.5 L159.7,724.8 L162.1,721.1 L164.6,718.2 L167.0,716.3 L169.5,714.5 L172.0,712.7 L174.4,710.8 L176.9,710.3 L179.3,709.8 L181.8,709.3 L184.3,708.8 L186.7,708.3 L189.2,708.1 L191.6,708.1 L194.1,708.1 L196.6,708.1 L199.0,708.1 L201.5,708.1 L203.9,708.1 L206.4,708.1 L208.9,708.1 L211.3,708.1 L213.8,708.1 L216.2,707.5 L218.7,706.5 L221.2,705.5 L223.6,704.5 L226.1,703.5 L228.5,702.2 L231.0,699.7 L233.5,697.2 L235.9,694.7 L238.4,692.2 L240.8,689.7 L243.3,686.2 L245.8,682.3 L248.2,678.4 L250.7,674.6 L253.1,670.7 L255.6,666.9 L258.1,662.9 L260.5,658.9 L263.0,654.9 L265.4,650.9 L267.9,646.9 L270.4,643.7 L272.8,640.7 L275.3,637.7 L277.7,634.7 L280.2,631.7 L282.7,628.9 L285.1,626.5 L287.6,624.1 L290.0,621.7 L292.5,619.3 L295.0,616.9 L297.4,615.2 L299.9,613.7 L302.3,612.2 L304.8,610.7 L307.3,609.2 L309.7,608.0 L312.2,607.4 L314.6,606.8 L317.1,606.1 L319.6,605.5 L322.0,604.9 L324.5,604.2 L326.9,604.1 L329.4,604.0 L331.9,603.9 L334.3,603.8 L336.8,603.7 L339.2,603.6 L341.7,603.5 L344.2,603.3 L346.6,603.2 L349.1,603.1 L351.5,603.0 L354.0,602.9" fill="none" stroke="#444" stroke-width="0.8"/>
<g fill="#fff" stroke="#222" stroke-width="1.0"><circle cx="108.0" cy="627.2" r="3.0"/><circle cx="110.5" cy="653.2" r="3.0"/><circle cx="112.9" cy="677.1" r="3.0"/><circle cx="115.4" cy="694.4" r="3.0"/><circle cx="117.8" cy="703.8" r="3.0"/><circle cx="120.3" cy="713.2" r="3.0"/><circle cx="122.8" cy="723.8" r="3.0"/><circle cx="125.2" cy="735.9" r="3.0"/><circle cx="127.7" cy="744.3" r="3.0"/><circle cx="130.1" cy="747.0" r="3.0"/><circle cx="132.6" cy="749.7" r="3.0"/><circle cx="135.1" cy="751.0" r="3.0"/><circle cx="137.5" cy="750.4" r="3.0"/><circle cx="140.0" cy="749.7" r="3.0"/><circle cx="142.4" cy="749.1" r="3.0"/><circle cx="144.9" cy="747.8" r="3.0"/><circle cx="147.4" cy="743.8" r="3.0"/><circle cx="149.8" cy="739.9" r="3.0"/><circle cx="152.3" cy="735.9" r="3.0"/><circle cx="154.7" cy="732.2" r="3.0"/><circle cx="157.2" cy="728.5" r="3.0"/><circle cx="159.7" cy="724.8" r="3.0"/><circle cx="162.1" cy="721.1" r="3.0"/><circle cx="164.6" cy="718.2" r="3.0"/><circle cx="167.0" cy="716.3" r="3.0"/><circle cx="169.5" cy="714.5" r="3.0"/><circle cx="172.0" cy="712.7" r="3.0"/><circle cx="174.4" cy="710.8" r="3.0"/><circle cx="176.9" cy="710.3" r="3.0"/><circle cx="179.3" cy="709.8" r="3.0"/><circle cx="181.8" cy="709.3" r="3.0"/><circle cx="184.3" cy="708.8" r="3.0"/><circle cx="186.7" cy="708.3" r="3.0"/><circle cx="189.2" cy="708.1" r="3.0"/><circle cx="191.6" cy="708.1" r="3.0"/><circle cx="194.1" cy="708.1" r="3.0"/><circle cx="196.6" cy="708.1" r="3.0"/><circle cx="199.0" cy="708.1" r="3.0"/><circle cx="201.5" cy="708.1" r="3.0"/><circle cx="203.9" cy="708.1" r="3.0"/><circle cx="206.4" cy="708.1" r="3.0"/><circle cx="208.9" cy="708.1" r="3.0"/><circle cx="211.3" cy="708.1" r="3.0"/><circle cx="213.8" cy="708.1" r="3.0"/><circle cx="216.2" cy="707.5" r="3.0"/><circle cx="218.7" cy="706.5" r="3.0"/><circle cx="221.2" cy="705.5" r="3.0"/><circle cx="223.6" cy="704.5" r="3.0"/><circle cx="226.1" cy="703.5" r="3.0"/><circle cx="228.5" cy="702.2" r="3.0"/><circle cx="231.0" cy="699.7" r="3.0"/><circle cx="233.5" cy="697.2" r="3.0"/><circle cx="235.9" cy="694.7" r="3.0"/><circle cx="238.4" cy="692.2" r="3.0"/><circle cx="240.8" cy="689.7" r="3.0"/><circle cx="243.3" cy="686.2" r="3.0"/><circle cx="245.8" cy="682.3" r="3.0"/><circle cx="248.2" cy="678.4" r="3.0"/><circle cx="250.7" cy="674.6" r="3.0"/><circle cx="253.1" cy="670.7" r="3.0"/><circle cx="255.6" cy="666.9" r="3.0"/><circle cx="258.1" cy="662.9" r="3.0"/><circle cx="260.5" cy="658.9" r="3.0"/><circle cx="263.0" cy="654.9" r="3.0"/><circle cx="265.4" cy="650.9" r="3.0"/><circle cx="267.9" cy="646.9" r="3.0"/><circle cx="270.4" cy="643.7" r="3.0"/><circle cx="272.8" cy="640.7" r="3.0"/><circle cx="275.3" cy="637.7" r="3.0"/><circle cx="277.7" cy="634.7" r="3.0"/><circle cx="280.2" cy="631.7" r="3.0"/><circle cx="282.7" cy="628.9" r="3.0"/><circle cx="285.1" cy="626.5" r="3.0"/><circle cx="287.6" cy="624.1" r="3.0"/><circle cx="290.0" cy="621.7" r="3.0"/><circle cx="292.5" cy="619.3" r="3.0"/><circle cx="295.0" cy="616.9" r="3.0"/><circle cx="297.4" cy="615.2" r="3.0"/><circle cx="299.9" cy="613.7" r="3.0"/><circle cx="302.3" cy="612.2" r="3.0"/><circle cx="304.8" cy="610.7" r="3.0"/><circle cx="307.3" cy="609.2" r="3.0"/><circle cx="309.7" cy="608.0" r="3.0"/><circle cx="312.2" cy="607.4" r="3.0"/><circle cx="314.6" cy="606.8" r="3.0"/><circle cx="317.1" cy="606.1" r="3.0"/><circle cx="319.6" cy="605.5" r="3.0"/><circle cx="322.0" cy="604.9" r="3.0"/><circle cx="324.5" cy="604.2" r="3.0"/><circle cx="326.9" cy="604.1" r="3.0"/><circle cx="329.4" cy="604.0" r="3.0"/><circle cx="331.9" cy="603.9" r="3.0"/><circle cx="334.3" cy="603.8" r="3.0"/><circle cx="336.8" cy="603.7" r="3.0"/><circle cx="339.2" cy="603.6" r="3.0"/><circle cx="341.7" cy="603.5" r="3.0"/><circle cx="344.2" cy="603.3" r="3.0"/><circle cx="346.6" cy="603.2" r="3.0"/><circle cx="349.1" cy="603.1" r="3.0"/><circle cx="351.5" cy="603.0" r="3.0"/><circle cx="354.0" cy="602.9" r="3.0"/></g>
<g fill="#fff" stroke="#ff8c1a" stroke-width="1.2"><circle cx="108.0" cy="641.3" r="3.2"/><circle cx="110.5" cy="654.4" r="3.2"/><circle cx="112.9" cy="667.3" r="3.2"/><circle cx="115.4" cy="674.1" r="3.2"/><circle cx="117.8" cy="682.0" r="3.2"/><circle cx="120.3" cy="698.3" r="3.2"/><circle cx="122.8" cy="715.0" r="3.2"/><circle cx="125.2" cy="728.6" r="3.2"/><circle cx="127.7" cy="743.7" r="3.2"/><circle cx="130.1" cy="751.3" r="3.2"/><circle cx="132.6" cy="751.3" r="3.2"/><circle cx="135.1" cy="751.3" r="3.2"/><circle cx="137.5" cy="751.3" r="3.2"/><circle cx="140.0" cy="751.6" r="3.2"/><circle cx="142.4" cy="752.0" r="3.2"/><circle cx="144.9" cy="752.4" r="3.2"/><circle cx="147.4" cy="749.9" r="3.2"/><circle cx="149.8" cy="744.5" r="3.2"/><circle cx="152.3" cy="740.9" r="3.2"/><circle cx="154.7" cy="737.3" r="3.2"/><circle cx="157.2" cy="733.2" r="3.2"/><circle cx="159.7" cy="728.4" r="3.2"/><circle cx="162.1" cy="723.7" r="3.2"/><circle cx="164.6" cy="718.9" r="3.2"/><circle cx="167.0" cy="716.5" r="3.2"/><circle cx="169.5" cy="714.1" r="3.2"/><circle cx="172.0" cy="711.7" r="3.2"/><circle cx="174.4" cy="709.3" r="3.2"/><circle cx="176.9" cy="707.8" r="3.2"/><circle cx="179.3" cy="706.5" r="3.2"/><circle cx="181.8" cy="705.3" r="3.2"/><circle cx="184.3" cy="704.0" r="3.2"/><circle cx="186.7" cy="702.7" r="3.2"/><circle cx="189.2" cy="702.6" r="3.2"/><circle cx="191.6" cy="702.4" r="3.2"/><circle cx="194.1" cy="702.3" r="3.2"/><circle cx="196.6" cy="702.1" r="3.2"/><circle cx="199.0" cy="702.0" r="3.2"/><circle cx="201.5" cy="701.8" r="3.2"/><circle cx="203.9" cy="701.7" r="3.2"/><circle cx="206.4" cy="701.6" r="3.2"/><circle cx="208.9" cy="701.4" r="3.2"/><circle cx="211.3" cy="700.9" r="3.2"/><circle cx="213.8" cy="700.3" r="3.2"/><circle cx="216.2" cy="699.7" r="3.2"/><circle cx="218.7" cy="699.0" r="3.2"/><circle cx="221.2" cy="698.4" r="3.2"/><circle cx="223.6" cy="697.8" r="3.2"/><circle cx="226.1" cy="696.9" r="3.2"/><circle cx="228.5" cy="694.8" r="3.2"/><circle cx="231.0" cy="692.7" r="3.2"/><circle cx="233.5" cy="690.6" r="3.2"/><circle cx="235.9" cy="688.5" r="3.2"/><circle cx="238.4" cy="686.4" r="3.2"/><circle cx="240.8" cy="684.3" r="3.2"/><circle cx="243.3" cy="680.8" r="3.2"/><circle cx="245.8" cy="676.9" r="3.2"/><circle cx="248.2" cy="673.0" r="3.2"/><circle cx="250.7" cy="669.2" r="3.2"/><circle cx="253.1" cy="665.3" r="3.2"/><circle cx="255.6" cy="661.5" r="3.2"/><circle cx="258.1" cy="657.5" r="3.2"/><circle cx="260.5" cy="653.5" r="3.2"/><circle cx="263.0" cy="649.5" r="3.2"/><circle cx="265.4" cy="645.5" r="3.2"/><circle cx="267.9" cy="641.5" r="3.2"/><circle cx="270.4" cy="638.3" r="3.2"/><circle cx="272.8" cy="635.3" r="3.2"/><circle cx="275.3" cy="632.3" r="3.2"/><circle cx="277.7" cy="629.3" r="3.2"/><circle cx="280.2" cy="626.3" r="3.2"/><circle cx="282.7" cy="623.8" r="3.2"/><circle cx="285.1" cy="621.9" r="3.2"/><circle cx="287.6" cy="620.1" r="3.2"/><circle cx="290.0" cy="618.3" r="3.2"/><circle cx="292.5" cy="616.4" r="3.2"/><circle cx="295.0" cy="614.6" r="3.2"/><circle cx="297.4" cy="613.2" r="3.2"/><circle cx="299.9" cy="612.0" r="3.2"/><circle cx="302.3" cy="610.7" r="3.2"/><circle cx="304.8" cy="609.5" r="3.2"/><circle cx="307.3" cy="608.2" r="3.2"/><circle cx="309.7" cy="607.3" r="3.2"/><circle cx="312.2" cy="606.8" r="3.2"/><circle cx="314.6" cy="606.3" r="3.2"/><circle cx="317.1" cy="605.8" r="3.2"/><circle cx="319.6" cy="605.3" r="3.2"/><circle cx="322.0" cy="604.8" r="3.2"/><circle cx="324.5" cy="604.2" r="3.2"/><circle cx="326.9" cy="604.1" r="3.2"/><circle cx="329.4" cy="604.0" r="3.2"/><circle cx="331.9" cy="603.9" r="3.2"/><circle cx="334.3" cy="603.8" r="3.2"/><circle cx="336.8" cy="603.7" r="3.2"/><circle cx="339.2" cy="603.6" r="3.2"/><circle cx="341.7" cy="603.5" r="3.2"/><circle cx="344.2" cy="603.3" r="3.2"/><circle cx="346.6" cy="603.2" r="3.2"/><circle cx="349.1" cy="603.1" r="3.2"/><circle cx="351.5" cy="603.0" r="3.2"/><circle cx="354.0" cy="602.9" r="3.2"/></g>
<g fill="#ff8c1a" stroke="none" stroke-width="0"><circle cx="108.0" cy="642.1" r="3.5"/><circle cx="110.5" cy="655.1" r="3.5"/><circle cx="112.9" cy="667.8" r="3.5"/><circle cx="115.4" cy="681.7" r="3.5"/><circle cx="117.8" cy="697.2" r="3.5"/><circle cx="120.3" cy="714.5" r="3.5"/><circle cx="122.8" cy="726.4" r="3.5"/><circle cx="125.2" cy="742.0" r="3.5"/><circle cx="127.7" cy="750.7" r="3.5"/><circle cx="130.1" cy="752.6" r="3.5"/><circle cx="132.6" cy="752.7" r="3.5"/><circle cx="135.1" cy="753.9" r="3.5"/><circle cx="137.5" cy="754.7" r="3.5"/><circle cx="140.0" cy="754.6" r="3.5"/><circle cx="142.4" cy="755.9" r="3.5"/><circle cx="144.9" cy="754.2" r="3.5"/><circle cx="147.4" cy="750.1" r="3.5"/><circle cx="149.8" cy="747.2" r="3.5"/><circle cx="152.3" cy="742.9" r="3.5"/><circle cx="154.7" cy="736.4" r="3.5"/><circle cx="157.2" cy="733.2" r="3.5"/><circle cx="159.7" cy="728.8" r="3.5"/><circle cx="162.1" cy="723.6" r="3.5"/><circle cx="164.6" cy="719.3" r="3.5"/><circle cx="167.0" cy="716.8" r="3.5"/><circle cx="169.5" cy="714.3" r="3.5"/><circle cx="172.0" cy="710.3" r="3.5"/><circle cx="174.4" cy="709.3" r="3.5"/><circle cx="176.9" cy="707.7" r="3.5"/><circle cx="179.3" cy="706.1" r="3.5"/><circle cx="181.8" cy="703.9" r="3.5"/><circle cx="184.3" cy="704.1" r="3.5"/><circle cx="186.7" cy="703.1" r="3.5"/><circle cx="189.2" cy="700.9" r="3.5"/><circle cx="191.6" cy="703.4" r="3.5"/><circle cx="194.1" cy="702.5" r="3.5"/><circle cx="196.6" cy="701.7" r="3.5"/><circle cx="199.0" cy="700.5" r="3.5"/><circle cx="201.5" cy="702.5" r="3.5"/><circle cx="203.9" cy="703.3" r="3.5"/><circle cx="206.4" cy="701.1" r="3.5"/><circle cx="208.9" cy="701.8" r="3.5"/><circle cx="211.3" cy="701.1" r="3.5"/><circle cx="213.8" cy="700.0" r="3.5"/><circle cx="216.2" cy="699.5" r="3.5"/><circle cx="218.7" cy="698.9" r="3.5"/><circle cx="221.2" cy="698.7" r="3.5"/><circle cx="223.6" cy="697.0" r="3.5"/><circle cx="226.1" cy="695.9" r="3.5"/><circle cx="228.5" cy="694.8" r="3.5"/><circle cx="231.0" cy="693.0" r="3.5"/><circle cx="233.5" cy="690.1" r="3.5"/><circle cx="235.9" cy="688.2" r="3.5"/><circle cx="238.4" cy="687.1" r="3.5"/><circle cx="240.8" cy="684.6" r="3.5"/><circle cx="243.3" cy="680.0" r="3.5"/><circle cx="245.8" cy="677.0" r="3.5"/><circle cx="248.2" cy="673.3" r="3.5"/><circle cx="250.7" cy="669.1" r="3.5"/><circle cx="253.1" cy="665.4" r="3.5"/><circle cx="255.6" cy="661.5" r="3.5"/><circle cx="258.1" cy="658.8" r="3.5"/><circle cx="260.5" cy="652.3" r="3.5"/><circle cx="263.0" cy="649.3" r="3.5"/><circle cx="265.4" cy="646.1" r="3.5"/><circle cx="267.9" cy="640.8" r="3.5"/><circle cx="270.4" cy="638.1" r="3.5"/><circle cx="272.8" cy="635.3" r="3.5"/><circle cx="275.3" cy="631.6" r="3.5"/><circle cx="277.7" cy="627.8" r="3.5"/><circle cx="280.2" cy="625.9" r="3.5"/><circle cx="282.7" cy="622.7" r="3.5"/><circle cx="285.1" cy="620.5" r="3.5"/><circle cx="287.6" cy="620.8" r="3.5"/><circle cx="290.0" cy="618.6" r="3.5"/><circle cx="292.5" cy="615.9" r="3.5"/><circle cx="295.0" cy="615.7" r="3.5"/><circle cx="297.4" cy="613.4" r="3.5"/><circle cx="299.9" cy="611.1" r="3.5"/><circle cx="302.3" cy="610.0" r="3.5"/><circle cx="304.8" cy="609.1" r="3.5"/><circle cx="307.3" cy="609.5" r="3.5"/><circle cx="309.7" cy="605.7" r="3.5"/><circle cx="312.2" cy="606.4" r="3.5"/><circle cx="314.6" cy="605.8" r="3.5"/><circle cx="317.1" cy="605.4" r="3.5"/><circle cx="319.6" cy="606.4" r="3.5"/><circle cx="322.0" cy="605.7" r="3.5"/><circle cx="324.5" cy="605.1" r="3.5"/><circle cx="326.9" cy="602.8" r="3.5"/><circle cx="329.4" cy="604.6" r="3.5"/><circle cx="331.9" cy="604.1" r="3.5"/><circle cx="334.3" cy="604.0" r="3.5"/><circle cx="336.8" cy="603.3" r="3.5"/><circle cx="339.2" cy="603.2" r="3.5"/><circle cx="341.7" cy="603.3" r="3.5"/><circle cx="344.2" cy="604.2" r="3.5"/><circle cx="346.6" cy="605.4" r="3.5"/><circle cx="349.1" cy="603.0" r="3.5"/><circle cx="351.5" cy="602.8" r="3.5"/><circle cx="354.0" cy="602.1" r="3.5"/></g>
<g fill="#ee1a7a" stroke="none" stroke-width="0"><circle cx="108.0" cy="604.1" r="3.5"/><circle cx="110.5" cy="611.3" r="3.5"/><circle cx="112.9" cy="618.9" r="3.5"/><circle cx="115.4" cy="627.3" r="3.5"/><circle cx="117.8" cy="636.8" r="3.5"/><circle cx="120.3" cy="640.7" r="3.5"/><circle cx="122.8" cy="647.6" r="3.5"/><circle cx="125.2" cy="654.9" r="3.5"/><circle cx="127.7" cy="659.2" r="3.5"/><circle cx="130.1" cy="664.8" r="3.5"/><circle cx="132.6" cy="669.8" r="3.5"/><circle cx="135.1" cy="674.4" r="3.5"/><circle cx="137.5" cy="676.1" r="3.5"/><circle cx="140.0" cy="679.9" r="3.5"/><circle cx="142.4" cy="682.0" r="3.5"/><circle cx="144.9" cy="684.3" r="3.5"/><circle cx="147.4" cy="687.0" r="3.5"/><circle cx="149.8" cy="689.1" r="3.5"/><circle cx="152.3" cy="688.8" r="3.5"/><circle cx="154.7" cy="690.0" r="3.5"/><circle cx="157.2" cy="691.8" r="3.5"/><circle cx="159.7" cy="693.7" r="3.5"/><circle cx="162.1" cy="694.9" r="3.5"/><circle cx="164.6" cy="695.0" r="3.5"/><circle cx="167.0" cy="694.2" r="3.5"/><circle cx="169.5" cy="695.6" r="3.5"/><circle cx="172.0" cy="696.6" r="3.5"/><circle cx="174.4" cy="697.8" r="3.5"/><circle cx="176.9" cy="696.7" r="3.5"/><circle cx="179.3" cy="697.1" r="3.5"/><circle cx="181.8" cy="696.2" r="3.5"/><circle cx="184.3" cy="695.4" r="3.5"/><circle cx="186.7" cy="694.7" r="3.5"/><circle cx="189.2" cy="694.4" r="3.5"/><circle cx="191.6" cy="693.8" r="3.5"/><circle cx="194.1" cy="692.5" r="3.5"/><circle cx="196.6" cy="690.5" r="3.5"/><circle cx="199.0" cy="689.5" r="3.5"/><circle cx="201.5" cy="688.5" r="3.5"/><circle cx="203.9" cy="684.4" r="3.5"/><circle cx="206.4" cy="683.1" r="3.5"/><circle cx="208.9" cy="678.6" r="3.5"/><circle cx="211.3" cy="678.9" r="3.5"/><circle cx="213.8" cy="676.2" r="3.5"/><circle cx="216.2" cy="673.8" r="3.5"/><circle cx="218.7" cy="670.9" r="3.5"/><circle cx="221.2" cy="669.1" r="3.5"/><circle cx="223.6" cy="667.3" r="3.5"/><circle cx="226.1" cy="665.1" r="3.5"/><circle cx="228.5" cy="661.5" r="3.5"/><circle cx="231.0" cy="659.2" r="3.5"/><circle cx="233.5" cy="656.7" r="3.5"/><circle cx="235.9" cy="652.2" r="3.5"/><circle cx="238.4" cy="650.6" r="3.5"/><circle cx="240.8" cy="647.9" r="3.5"/><circle cx="243.3" cy="646.5" r="3.5"/><circle cx="245.8" cy="643.5" r="3.5"/><circle cx="248.2" cy="641.4" r="3.5"/><circle cx="250.7" cy="638.9" r="3.5"/><circle cx="253.1" cy="635.8" r="3.5"/><circle cx="255.6" cy="633.5" r="3.5"/><circle cx="258.1" cy="631.2" r="3.5"/><circle cx="260.5" cy="628.9" r="3.5"/><circle cx="263.0" cy="628.0" r="3.5"/><circle cx="265.4" cy="625.8" r="3.5"/><circle cx="267.9" cy="623.4" r="3.5"/><circle cx="270.4" cy="622.2" r="3.5"/><circle cx="272.8" cy="620.9" r="3.5"/><circle cx="275.3" cy="618.9" r="3.5"/><circle cx="277.7" cy="618.5" r="3.5"/><circle cx="280.2" cy="617.1" r="3.5"/><circle cx="282.7" cy="614.8" r="3.5"/><circle cx="285.1" cy="614.6" r="3.5"/><circle cx="287.6" cy="612.4" r="3.5"/><circle cx="290.0" cy="611.9" r="3.5"/><circle cx="292.5" cy="610.7" r="3.5"/><circle cx="295.0" cy="609.5" r="3.5"/><circle cx="297.4" cy="610.9" r="3.5"/><circle cx="299.9" cy="608.7" r="3.5"/><circle cx="302.3" cy="608.7" r="3.5"/><circle cx="304.8" cy="607.3" r="3.5"/><circle cx="307.3" cy="606.3" r="3.5"/><circle cx="309.7" cy="604.8" r="3.5"/><circle cx="312.2" cy="605.4" r="3.5"/><circle cx="314.6" cy="603.9" r="3.5"/><circle cx="317.1" cy="605.0" r="3.5"/><circle cx="319.6" cy="604.4" r="3.5"/><circle cx="322.0" cy="604.0" r="3.5"/><circle cx="324.5" cy="603.3" r="3.5"/><circle cx="326.9" cy="603.9" r="3.5"/><circle cx="329.4" cy="604.2" r="3.5"/><circle cx="331.9" cy="603.9" r="3.5"/><circle cx="334.3" cy="604.5" r="3.5"/><circle cx="336.8" cy="602.6" r="3.5"/><circle cx="339.2" cy="602.9" r="3.5"/><circle cx="341.7" cy="603.0" r="3.5"/><circle cx="344.2" cy="603.0" r="3.5"/><circle cx="346.6" cy="603.6" r="3.5"/><circle cx="349.1" cy="603.3" r="3.5"/><circle cx="351.5" cy="602.4" r="3.5"/><circle cx="354.0" cy="603.4" r="3.5"/></g>
<g fill="#1a8a80"><rect x="104.7" y="578.1" width="6.6" height="6.6"/><rect x="107.2" y="593.5" width="6.6" height="6.6"/><rect x="109.6" y="605.9" width="6.6" height="6.6"/><rect x="112.1" y="617.6" width="6.6" height="6.6"/><rect x="114.5" y="626.0" width="6.6" height="6.6"/><rect x="117.0" y="634.5" width="6.6" height="6.6"/><rect x="119.5" y="640.2" width="6.6" height="6.6"/><rect x="121.9" y="644.6" width="6.6" height="6.6"/><rect x="124.4" y="651.8" width="6.6" height="6.6"/><rect x="126.8" y="657.5" width="6.6" height="6.6"/><rect x="129.3" y="663.1" width="6.6" height="6.6"/><rect x="131.8" y="667.8" width="6.6" height="6.6"/><rect x="134.2" y="672.3" width="6.6" height="6.6"/><rect x="136.7" y="676.0" width="6.6" height="6.6"/><rect x="139.1" y="680.6" width="6.6" height="6.6"/><rect x="141.6" y="682.8" width="6.6" height="6.6"/><rect x="144.1" y="685.3" width="6.6" height="6.6"/><rect x="146.5" y="686.0" width="6.6" height="6.6"/><rect x="149.0" y="688.2" width="6.6" height="6.6"/><rect x="151.4" y="689.5" width="6.6" height="6.6"/><rect x="153.9" y="690.4" width="6.6" height="6.6"/><rect x="156.4" y="692.8" width="6.6" height="6.6"/><rect x="158.8" y="693.0" width="6.6" height="6.6"/><rect x="161.3" y="693.4" width="6.6" height="6.6"/><rect x="163.7" y="695.3" width="6.6" height="6.6"/><rect x="166.2" y="695.1" width="6.6" height="6.6"/><rect x="168.7" y="696.5" width="6.6" height="6.6"/><rect x="171.1" y="698.1" width="6.6" height="6.6"/><rect x="173.6" y="697.4" width="6.6" height="6.6"/><rect x="176.0" y="698.2" width="6.6" height="6.6"/><rect x="178.5" y="697.3" width="6.6" height="6.6"/><rect x="181.0" y="697.4" width="6.6" height="6.6"/><rect x="183.4" y="696.6" width="6.6" height="6.6"/><rect x="185.9" y="697.9" width="6.6" height="6.6"/><rect x="188.3" y="694.2" width="6.6" height="6.6"/><rect x="190.8" y="693.8" width="6.6" height="6.6"/><rect x="193.3" y="694.0" width="6.6" height="6.6"/><rect x="195.7" y="693.5" width="6.6" height="6.6"/><rect x="198.2" y="691.3" width="6.6" height="6.6"/><rect x="200.6" y="688.7" width="6.6" height="6.6"/><rect x="203.1" y="686.8" width="6.6" height="6.6"/><rect x="205.6" y="684.6" width="6.6" height="6.6"/><rect x="208.0" y="684.1" width="6.6" height="6.6"/><rect x="210.5" y="681.0" width="6.6" height="6.6"/><rect x="212.9" y="676.9" width="6.6" height="6.6"/><rect x="215.4" y="675.2" width="6.6" height="6.6"/><rect x="217.9" y="673.9" width="6.6" height="6.6"/><rect x="220.3" y="671.0" width="6.6" height="6.6"/><rect x="222.8" y="669.0" width="6.6" height="6.6"/><rect x="225.2" y="666.2" width="6.6" height="6.6"/><rect x="227.7" y="662.3" width="6.6" height="6.6"/><rect x="230.2" y="660.8" width="6.6" height="6.6"/><rect x="232.6" y="657.3" width="6.6" height="6.6"/><rect x="235.1" y="655.3" width="6.6" height="6.6"/><rect x="237.5" y="653.9" width="6.6" height="6.6"/><rect x="240.0" y="650.8" width="6.6" height="6.6"/><rect x="242.5" y="646.3" width="6.6" height="6.6"/><rect x="244.9" y="646.0" width="6.6" height="6.6"/><rect x="247.4" y="643.7" width="6.6" height="6.6"/><rect x="249.8" y="639.7" width="6.6" height="6.6"/><rect x="252.3" y="638.0" width="6.6" height="6.6"/><rect x="254.8" y="635.6" width="6.6" height="6.6"/><rect x="257.2" y="632.2" width="6.6" height="6.6"/><rect x="259.7" y="631.9" width="6.6" height="6.6"/><rect x="262.1" y="628.2" width="6.6" height="6.6"/><rect x="264.6" y="627.5" width="6.6" height="6.6"/><rect x="267.1" y="626.0" width="6.6" height="6.6"/><rect x="269.5" y="623.9" width="6.6" height="6.6"/><rect x="272.0" y="620.8" width="6.6" height="6.6"/><rect x="274.4" y="620.4" width="6.6" height="6.6"/><rect x="276.9" y="620.4" width="6.6" height="6.6"/><rect x="279.4" y="618.7" width="6.6" height="6.6"/><rect x="281.8" y="615.6" width="6.6" height="6.6"/><rect x="284.3" y="614.6" width="6.6" height="6.6"/><rect x="286.7" y="614.6" width="6.6" height="6.6"/><rect x="289.2" y="610.6" width="6.6" height="6.6"/><rect x="291.7" y="611.0" width="6.6" height="6.6"/><rect x="294.1" y="610.2" width="6.6" height="6.6"/><rect x="296.6" y="608.2" width="6.6" height="6.6"/><rect x="299.0" y="606.2" width="6.6" height="6.6"/><rect x="301.5" y="604.4" width="6.6" height="6.6"/><rect x="304.0" y="603.6" width="6.6" height="6.6"/><rect x="306.4" y="603.5" width="6.6" height="6.6"/><rect x="308.9" y="603.1" width="6.6" height="6.6"/><rect x="311.3" y="603.2" width="6.6" height="6.6"/><rect x="313.8" y="601.8" width="6.6" height="6.6"/><rect x="316.3" y="601.7" width="6.6" height="6.6"/><rect x="318.7" y="600.6" width="6.6" height="6.6"/><rect x="321.2" y="601.5" width="6.6" height="6.6"/><rect x="323.6" y="600.9" width="6.6" height="6.6"/><rect x="326.1" y="601.1" width="6.6" height="6.6"/><rect x="328.6" y="601.2" width="6.6" height="6.6"/><rect x="331.0" y="601.1" width="6.6" height="6.6"/><rect x="333.5" y="600.9" width="6.6" height="6.6"/><rect x="335.9" y="600.9" width="6.6" height="6.6"/><rect x="338.4" y="599.6" width="6.6" height="6.6"/><rect x="340.9" y="599.9" width="6.6" height="6.6"/><rect x="343.3" y="600.8" width="6.6" height="6.6"/><rect x="345.8" y="599.4" width="6.6" height="6.6"/><rect x="348.2" y="599.5" width="6.6" height="6.6"/><rect x="350.7" y="598.6" width="6.6" height="6.6"/></g>
<g fill="#9922ee"><rect x="104.7" y="590.2" width="6.6" height="6.6"/><rect x="107.2" y="600.6" width="6.6" height="6.6"/><rect x="109.6" y="611.9" width="6.6" height="6.6"/><rect x="112.1" y="620.2" width="6.6" height="6.6"/><rect x="114.5" y="628.5" width="6.6" height="6.6"/><rect x="117.0" y="636.1" width="6.6" height="6.6"/><rect x="119.5" y="642.0" width="6.6" height="6.6"/><rect x="121.9" y="647.6" width="6.6" height="6.6"/><rect x="124.4" y="654.3" width="6.6" height="6.6"/><rect x="126.8" y="659.2" width="6.6" height="6.6"/><rect x="129.3" y="665.0" width="6.6" height="6.6"/><rect x="131.8" y="668.3" width="6.6" height="6.6"/><rect x="134.2" y="673.1" width="6.6" height="6.6"/><rect x="136.7" y="676.1" width="6.6" height="6.6"/><rect x="139.1" y="678.6" width="6.6" height="6.6"/><rect x="141.6" y="679.9" width="6.6" height="6.6"/><rect x="144.1" y="682.8" width="6.6" height="6.6"/><rect x="146.5" y="685.6" width="6.6" height="6.6"/><rect x="149.0" y="687.6" width="6.6" height="6.6"/><rect x="151.4" y="688.0" width="6.6" height="6.6"/><rect x="153.9" y="688.9" width="6.6" height="6.6"/><rect x="156.4" y="690.1" width="6.6" height="6.6"/><rect x="158.8" y="692.3" width="6.6" height="6.6"/><rect x="161.3" y="692.6" width="6.6" height="6.6"/><rect x="163.7" y="693.5" width="6.6" height="6.6"/><rect x="166.2" y="694.0" width="6.6" height="6.6"/><rect x="168.7" y="695.0" width="6.6" height="6.6"/><rect x="171.1" y="695.1" width="6.6" height="6.6"/><rect x="173.6" y="696.8" width="6.6" height="6.6"/><rect x="176.0" y="695.9" width="6.6" height="6.6"/><rect x="178.5" y="694.4" width="6.6" height="6.6"/><rect x="181.0" y="695.1" width="6.6" height="6.6"/><rect x="183.4" y="693.8" width="6.6" height="6.6"/><rect x="185.9" y="694.4" width="6.6" height="6.6"/><rect x="188.3" y="692.8" width="6.6" height="6.6"/><rect x="190.8" y="691.4" width="6.6" height="6.6"/><rect x="193.3" y="691.4" width="6.6" height="6.6"/><rect x="195.7" y="690.0" width="6.6" height="6.6"/><rect x="198.2" y="685.7" width="6.6" height="6.6"/><rect x="200.6" y="685.7" width="6.6" height="6.6"/><rect x="203.1" y="683.6" width="6.6" height="6.6"/><rect x="205.6" y="681.4" width="6.6" height="6.6"/><rect x="208.0" y="678.6" width="6.6" height="6.6"/><rect x="210.5" y="676.1" width="6.6" height="6.6"/><rect x="212.9" y="673.0" width="6.6" height="6.6"/><rect x="215.4" y="670.7" width="6.6" height="6.6"/><rect x="217.9" y="669.0" width="6.6" height="6.6"/><rect x="220.3" y="666.6" width="6.6" height="6.6"/><rect x="222.8" y="664.8" width="6.6" height="6.6"/><rect x="225.2" y="662.4" width="6.6" height="6.6"/><rect x="227.7" y="659.5" width="6.6" height="6.6"/><rect x="230.2" y="655.9" width="6.6" height="6.6"/><rect x="232.6" y="653.7" width="6.6" height="6.6"/><rect x="235.1" y="650.7" width="6.6" height="6.6"/><rect x="237.5" y="648.0" width="6.6" height="6.6"/><rect x="240.0" y="646.3" width="6.6" height="6.6"/><rect x="242.5" y="642.3" width="6.6" height="6.6"/><rect x="244.9" y="641.7" width="6.6" height="6.6"/><rect x="247.4" y="639.3" width="6.6" height="6.6"/><rect x="249.8" y="636.7" width="6.6" height="6.6"/><rect x="252.3" y="633.2" width="6.6" height="6.6"/><rect x="254.8" y="631.6" width="6.6" height="6.6"/><rect x="257.2" y="629.5" width="6.6" height="6.6"/><rect x="259.7" y="626.3" width="6.6" height="6.6"/><rect x="262.1" y="624.1" width="6.6" height="6.6"/><rect x="264.6" y="623.2" width="6.6" height="6.6"/><rect x="267.1" y="621.6" width="6.6" height="6.6"/><rect x="269.5" y="619.0" width="6.6" height="6.6"/><rect x="272.0" y="617.6" width="6.6" height="6.6"/><rect x="274.4" y="616.4" width="6.6" height="6.6"/><rect x="276.9" y="616.4" width="6.6" height="6.6"/><rect x="279.4" y="614.4" width="6.6" height="6.6"/><rect x="281.8" y="613.1" width="6.6" height="6.6"/><rect x="284.3" y="613.4" width="6.6" height="6.6"/><rect x="286.7" y="610.1" width="6.6" height="6.6"/><rect x="289.2" y="609.6" width="6.6" height="6.6"/><rect x="291.7" y="608.7" width="6.6" height="6.6"/><rect x="294.1" y="605.9" width="6.6" height="6.6"/><rect x="296.6" y="606.3" width="6.6" height="6.6"/><rect x="299.0" y="605.9" width="6.6" height="6.6"/><rect x="301.5" y="604.5" width="6.6" height="6.6"/><rect x="304.0" y="603.0" width="6.6" height="6.6"/><rect x="306.4" y="602.1" width="6.6" height="6.6"/><rect x="308.9" y="602.3" width="6.6" height="6.6"/><rect x="311.3" y="602.5" width="6.6" height="6.6"/><rect x="313.8" y="602.0" width="6.6" height="6.6"/><rect x="316.3" y="601.7" width="6.6" height="6.6"/><rect x="318.7" y="601.5" width="6.6" height="6.6"/><rect x="321.2" y="600.6" width="6.6" height="6.6"/><rect x="323.6" y="600.9" width="6.6" height="6.6"/><rect x="326.1" y="600.4" width="6.6" height="6.6"/><rect x="328.6" y="600.9" width="6.6" height="6.6"/><rect x="331.0" y="600.9" width="6.6" height="6.6"/><rect x="333.5" y="600.3" width="6.6" height="6.6"/><rect x="335.9" y="600.3" width="6.6" height="6.6"/><rect x="338.4" y="599.2" width="6.6" height="6.6"/><rect x="340.9" y="600.6" width="6.6" height="6.6"/><rect x="343.3" y="599.7" width="6.6" height="6.6"/><rect x="345.8" y="599.8" width="6.6" height="6.6"/><rect x="348.2" y="600.6" width="6.6" height="6.6"/><rect x="350.7" y="599.1" width="6.6" height="6.6"/></g>
<path d="M108.0,507.7 L110.5,527.6 L112.9,554.6 L115.4,573.0 L117.8,587.7 L120.3,605.5 L122.8,622.2 L125.2,647.7 L127.7,667.9 L130.1,680.9 L132.6,695.7 L135.1,705.5 L137.5,712.8 L140.0,724.5 L142.4,737.6 L144.9,740.0 L147.4,740.0 L149.8,739.9 L152.3,739.4 L154.7,737.7 L157.2,736.0 L159.7,734.1 L162.1,732.7 L164.6,732.8 L167.0,730.4 L169.5,730.4 L172.0,729.6 L174.4,731.0 L176.9,731.4 L179.3,731.5 L181.8,733.5 L184.3,737.0 L186.7,739.2 L189.2,740.7 L191.6,741.3 L194.1,741.7 L196.6,743.5 L199.0,746.3 L201.5,745.2 L203.9,744.6 L206.4,749.0 L208.9,750.4 L211.3,752.8 L213.8,754.0 L216.2,754.3 L218.7,753.9 L221.2,753.8 L223.6,753.0 L226.1,752.1 L228.5,749.5 L231.0,747.5 L233.5,743.7 L235.9,739.2 L238.4,734.3 L240.8,730.3 L243.3,724.8 L245.8,719.7 L248.2,713.5 L250.7,707.2 L253.1,702.9 L255.6,698.8 L258.1,691.0 L260.5,687.0 L263.0,682.1 L265.4,677.8 L267.9,671.0 L270.4,665.7 L272.8,660.8 L275.3,657.2 L277.7,651.7 L280.2,648.5 L282.7,644.5 L285.1,640.0 L287.6,636.8 L290.0,633.9 L292.5,630.6 L295.0,629.3 L297.4,624.2 L299.9,623.2 L302.3,619.9 L304.8,618.4 L307.3,615.8 L309.7,614.9 L312.2,614.7 L314.6,612.2 L317.1,610.9 L319.6,611.0 L322.0,610.5 L324.5,608.7 L326.9,608.1 L329.4,606.7 L331.9,606.0 L334.3,604.2 L336.8,604.2 L339.2,604.6 L341.7,604.1 L344.2,605.9 L346.6,604.3 L349.1,604.0 L351.5,603.2 L354.0,602.7" fill="none" stroke="#222" stroke-width="0.9"/>
<g fill="#000" stroke="none" stroke-width="0"><circle cx="108.0" cy="507.7" r="3.5"/><circle cx="110.5" cy="527.6" r="3.5"/><circle cx="112.9" cy="554.6" r="3.5"/><circle cx="115.4" cy="573.0" r="3.5"/><circle cx="117.8" cy="587.7" r="3.5"/><circle cx="120.3" cy="605.5" r="3.5"/><circle cx="122.8" cy="622.2" r="3.5"/><circle cx="125.2" cy="647.7" r="3.5"/><circle cx="127.7" cy="667.9" r="3.5"/><circle cx="130.1" cy="680.9" r="3.5"/><circle cx="132.6" cy="695.7" r="3.5"/><circle cx="135.1" cy="705.5" r="3.5"/><circle cx="137.5" cy="712.8" r="3.5"/><circle cx="140.0" cy="724.5" r="3.5"/><circle cx="142.4" cy="737.6" r="3.5"/><circle cx="144.9" cy="740.0" r="3.5"/><circle cx="147.4" cy="740.0" r="3.5"/><circle cx="149.8" cy="739.9" r="3.5"/><circle cx="152.3" cy="739.4" r="3.5"/><circle cx="154.7" cy="737.7" r="3.5"/><circle cx="157.2" cy="736.0" r="3.5"/><circle cx="159.7" cy="734.1" r="3.5"/><circle cx="162.1" cy="732.7" r="3.5"/><circle cx="164.6" cy="732.8" r="3.5"/><circle cx="167.0" cy="730.4" r="3.5"/><circle cx="169.5" cy="730.4" r="3.5"/><circle cx="172.0" cy="729.6" r="3.5"/><circle cx="174.4" cy="731.0" r="3.5"/><circle cx="176.9" cy="731.4" r="3.5"/><circle cx="179.3" cy="731.5" r="3.5"/><circle cx="181.8" cy="733.5" r="3.5"/><circle cx="184.3" cy="737.0" r="3.5"/><circle cx="186.7" cy="739.2" r="3.5"/><circle cx="189.2" cy="740.7" r="3.5"/><circle cx="191.6" cy="741.3" r="3.5"/><circle cx="194.1" cy="741.7" r="3.5"/><circle cx="196.6" cy="743.5" r="3.5"/><circle cx="199.0" cy="746.3" r="3.5"/><circle cx="201.5" cy="745.2" r="3.5"/><circle cx="203.9" cy="744.6" r="3.5"/><circle cx="206.4" cy="749.0" r="3.5"/><circle cx="208.9" cy="750.4" r="3.5"/><circle cx="211.3" cy="752.8" r="3.5"/><circle cx="213.8" cy="754.0" r="3.5"/><circle cx="216.2" cy="754.3" r="3.5"/><circle cx="218.7" cy="753.9" r="3.5"/><circle cx="221.2" cy="753.8" r="3.5"/><circle cx="223.6" cy="753.0" r="3.5"/><circle cx="226.1" cy="752.1" r="3.5"/><circle cx="228.5" cy="749.5" r="3.5"/><circle cx="231.0" cy="747.5" r="3.5"/><circle cx="233.5" cy="743.7" r="3.5"/><circle cx="235.9" cy="739.2" r="3.5"/><circle cx="238.4" cy="734.3" r="3.5"/><circle cx="240.8" cy="730.3" r="3.5"/><circle cx="243.3" cy="724.8" r="3.5"/><circle cx="245.8" cy="719.7" r="3.5"/><circle cx="248.2" cy="713.5" r="3.5"/><circle cx="250.7" cy="707.2" r="3.5"/><circle cx="253.1" cy="702.9" r="3.5"/><circle cx="255.6" cy="698.8" r="3.5"/><circle cx="258.1" cy="691.0" r="3.5"/><circle cx="260.5" cy="687.0" r="3.5"/><circle cx="263.0" cy="682.1" r="3.5"/><circle cx="265.4" cy="677.8" r="3.5"/><circle cx="267.9" cy="671.0" r="3.5"/><circle cx="270.4" cy="665.7" r="3.5"/><circle cx="272.8" cy="660.8" r="3.5"/><circle cx="275.3" cy="657.2" r="3.5"/><circle cx="277.7" cy="651.7" r="3.5"/><circle cx="280.2" cy="648.5" r="3.5"/><circle cx="282.7" cy="644.5" r="3.5"/><circle cx="285.1" cy="640.0" r="3.5"/><circle cx="287.6" cy="636.8" r="3.5"/><circle cx="290.0" cy="633.9" r="3.5"/><circle cx="292.5" cy="630.6" r="3.5"/><circle cx="295.0" cy="629.3" r="3.5"/><circle cx="297.4" cy="624.2" r="3.5"/><circle cx="299.9" cy="623.2" r="3.5"/><circle cx="302.3" cy="619.9" r="3.5"/><circle cx="304.8" cy="618.4" r="3.5"/><circle cx="307.3" cy="615.8" r="3.5"/><circle cx="309.7" cy="614.9" r="3.5"/><circle cx="312.2" cy="614.7" r="3.5"/><circle cx="314.6" cy="612.2" r="3.5"/><circle cx="317.1" cy="610.9" r="3.5"/><circle cx="319.6" cy="611.0" r="3.5"/><circle cx="322.0" cy="610.5" r="3.5"/><circle cx="324.5" cy="608.7" r="3.5"/><circle cx="326.9" cy="608.1" r="3.5"/><circle cx="329.4" cy="606.7" r="3.5"/><circle cx="331.9" cy="606.0" r="3.5"/><circle cx="334.3" cy="604.2" r="3.5"/><circle cx="336.8" cy="604.2" r="3.5"/><circle cx="339.2" cy="604.6" r="3.5"/><circle cx="341.7" cy="604.1" r="3.5"/><circle cx="344.2" cy="605.9" r="3.5"/><circle cx="346.6" cy="604.3" r="3.5"/><circle cx="349.1" cy="604.0" r="3.5"/><circle cx="351.5" cy="603.2" r="3.5"/><circle cx="354.0" cy="602.7" r="3.5"/></g>
<rect x="83.6" y="468.3" width="270.6" height="337.09999999999997" fill="none" stroke="#000" stroke-width="1.3"/>
<text transform="translate(76.90,540.95)" font-size="16.3" text-anchor="end">5</text>
<text transform="translate(76.90,608.40)" font-size="16.3" text-anchor="end">0</text>
<text transform="translate(76.90,675.85)" font-size="16.3" text-anchor="end">-5</text>
<text transform="translate(76.90,743.30)" font-size="16.3" text-anchor="end">-10</text>
<text transform="translate(108.00,826.00)" font-size="16.3" text-anchor="middle">200</text>
<text transform="translate(157.20,826.00)" font-size="16.3" text-anchor="middle">210</text>
<text transform="translate(206.40,826.00)" font-size="16.3" text-anchor="middle">220</text>
<text transform="translate(255.60,826.00)" font-size="16.3" text-anchor="middle">230</text>
<text transform="translate(304.80,826.00)" font-size="16.3" text-anchor="middle">240</text>
<path d="M83.6,535.4h6.3M83.6,602.9h6.3M83.6,670.4h6.3M83.6,737.8h6.3M108.0,805.4v-6.5M157.2,805.4v-6.5M206.4,805.4v-6.5M255.6,805.4v-6.5M304.8,805.4v-6.5" stroke="#000" stroke-width="1.2"/>
<text transform="translate(218.40,852.60)" font-size="17.5" text-anchor="middle">λ(nm)</text>
<text transform="translate(49.80,629.50) rotate(-90) scale(0.97,1)" font-size="16" text-anchor="middle">Θ<tspan font-size="10.5" dy="4.5">mrw</tspan><tspan dy="-4.5">·10</tspan><tspan font-size="10.5" dy="-6.5">-3</tspan><tspan dy="6.5"> (deg·dmol</tspan><tspan font-size="10.5" dy="-6.5">-1</tspan><tspan dy="6.5">·cm</tspan><tspan font-size="10.5" dy="-6.5">-1</tspan><tspan dy="6.5">)</tspan></text>
<path d="M127,484.5H167.5" stroke="#333" stroke-width="1.1"/>
<circle cx="147" cy="484.5" r="4.7" fill="#000" stroke="#000" stroke-width="1"/>
<text transform="translate(172.90,489.90)" font-size="16.2">SIF-Ca<tspan font-size="11" dy="-7.5">2+</tspan></text>
<path d="M127,504.5H167.5" stroke="#555" stroke-width="1.1"/>
<circle cx="147" cy="504.5" r="4.7" fill="#fff" stroke="#222" stroke-width="1"/>
<text transform="translate(172.90,509.90)" font-size="16.2">SIF-EDTA</text>
<path d="M127,527.0H167.5" stroke="#ff8c1a" stroke-width="1.1"/>
<circle cx="147" cy="527.0" r="4.7" fill="#ff8c1a" stroke="#ff8c1a" stroke-width="1"/>
<text transform="translate(172.90,532.40)" font-size="16.2">SGF-Ca<tspan font-size="11" dy="-7.5">2+</tspan></text>
<path d="M127,546.3H167.5" stroke="#ff8c1a" stroke-width="1.1"/>
<circle cx="147" cy="546.3" r="4.7" fill="#fff" stroke="#ff8c1a" stroke-width="1"/>
<text transform="translate(172.90,551.70)" font-size="16.2">SGF-EDTA</text>
<path d="M127,566.3H167.5" stroke="#1a8a80" stroke-width="1.1"/>
<rect x="142.6" y="561.9" width="8.8" height="8.8" fill="#1a8a80"/>
<text transform="translate(172.90,571.70)" font-size="16.2">36 h, SIF-EDTA</text>
<path d="M127,586.3H167.5" stroke="#9922ee" stroke-width="1.1"/>
<rect x="142.6" y="581.9" width="8.8" height="8.8" fill="#9922ee"/>
<text transform="translate(172.90,591.70)" font-size="16.2">36 h, SGF-EDTA</text>
<path d="M127,608.8H167.5" stroke="#ee1a7a" stroke-width="1.1"/>
<circle cx="147" cy="608.8" r="4.7" fill="#ee1a7a" stroke="#ee1a7a" stroke-width="1"/>
<text transform="translate(172.90,614.20)" font-size="16.2">36 h, SGF-Ca<tspan font-size="11" dy="-7.5">2+</tspan></text>
</g>
<g id="E">
<text transform="translate(368.68,465.65) scale(0.692,1)" font-size="48.3" stroke="#000" stroke-width="0.6">E</text>
<defs><filter id="afm0" filterUnits="userSpaceOnUse" x="403.8" y="449.5" width="203.6" height="198.0" color-interpolation-filters="sRGB"><feTurbulence type="fractalNoise" baseFrequency="0.05" numOctaves="3" seed="3" result="n"/><feTurbulence type="fractalNoise" baseFrequency="0.12" numOctaves="2" seed="23" result="cn"/><feColorMatrix in="n" type="matrix" values="0 0 0 0 0  0 0 0 0 0  0 0 0 0 0  0.18 0 0 0 0" result="na1"/><feColorMatrix in="cn" type="matrix" values="0 0 0 0 0  0 0 0 0 0  0 0 0 0 0  0.0 0 0 0 0" result="na2"/><feComposite in="na1" in2="na2" operator="arithmetic" k2="1" k3="1" result="na"/><feGaussianBlur in="SourceAlpha" stdDeviation="2.2" result="fb"/><feComposite in="fb" in2="na" operator="arithmetic" k2="0.8" k3="1" result="hh"/><feDiffuseLighting in="hh" surfaceScale="2.0" diffuseConstant="1" lighting-color="#fff" result="lt"><feDistantLight azimuth="15" elevation="48.6"/></feDiffuseLighting><feColorMatrix in="fb" type="matrix" values="0 0 0 1 0  0 0 0 1 0  0 0 0 1 0  0 0 0 0 1" result="fbg"/><feComposite in="lt" in2="fbg" operator="arithmetic" k2="1" k3="0.15"/><feComponentTransfer><feFuncR type="table" tableValues="0.5 0.62 0.78 0.94 1"/><feFuncG type="table" tableValues="0.14 0.2 0.31 0.45 0.78"/><feFuncB type="table" tableValues="0 0.02 0.035 0.05 0.33"/></feComponentTransfer></filter><filter id="afm1" filterUnits="userSpaceOnUse" x="617.0" y="449.5" width="189.4" height="198.0" color-interpolation-filters="sRGB"><feTurbulence type="fractalNoise" baseFrequency="0.55" numOctaves="2" seed="4" result="n"/><feTurbulence type="fractalNoise" baseFrequency="0.1" numOctaves="2" seed="24" result="cn"/><feColorMatrix in="n" type="matrix" values="0 0 0 0 0  0 0 0 0 0  0 0 0 0 0  0.2 0 0 0 0" result="na1"/><feColorMatrix in="cn" type="matrix" values="0 0 0 0 0  0 0 0 0 0  0 0 0 0 0  0.5 0 0 0 0" result="na2"/><feComposite in="na1" in2="na2" operator="arithmetic" k2="1" k3="1" result="na"/><feGaussianBlur in="SourceAlpha" stdDeviation="2.0" result="fb"/><feComposite in="fb" in2="na" operator="arithmetic" k2="0.8" k3="1" result="hh"/><feDiffuseLighting in="hh" surfaceScale="2.2" diffuseConstant="1" lighting-color="#fff" result="lt"><feDistantLight azimuth="15" elevation="48.6"/></feDiffuseLighting><feColorMatrix in="fb" type="matrix" values="0 0 0 1 0  0 0 0 1 0  0 0 0 1 0  0 0 0 0 1" result="fbg"/><feComposite in="lt" in2="fbg" operator="arithmetic" k2="1" k3="0.1"/><feComponentTransfer><feFuncR type="table" tableValues="0.5 0.62 0.78 0.94 1"/><feFuncG type="table" tableValues="0.14 0.2 0.31 0.45 0.78"/><feFuncB type="table" tableValues="0 0.02 0.035 0.05 0.33"/></feComponentTransfer></filter><filter id="afm2" filterUnits="userSpaceOnUse" x="815.4" y="448.8" width="197.6" height="198.2" color-interpolation-filters="sRGB"><feTurbulence type="fractalNoise" baseFrequency="0.55" numOctaves="2" seed="5" result="n"/><feTurbulence type="fractalNoise" baseFrequency="0.12" numOctaves="2" seed="25" result="cn"/><feColorMatrix in="n" type="matrix" values="0 0 0 0 0  0 0 0 0 0  0 0 0 0 0  0.2 0 0 0 0" result="na1"/><feColorMatrix in="cn" type="matrix" values="0 0 0 0 0  0 0 0 0 0  0 0 0 0 0  0.4 0 0 0 0" result="na2"/><feComposite in="na1" in2="na2" operator="arithmetic" k2="1" k3="1" result="na"/><feGaussianBlur in="SourceAlpha" stdDeviation="2.2" result="fb"/><feComposite in="fb" in2="na" operator="arithmetic" k2="0.8" k3="1" result="hh"/><feDiffuseLighting in="hh" surfaceScale="2.4" diffuseConstant="1" lighting-color="#fff" result="lt"><feDistantLight azimuth="15" elevation="48.6"/></feDiffuseLighting><feColorMatrix in="fb" type="matrix" values="0 0 0 1 0  0 0 0 1 0  0 0 0 1 0  0 0 0 0 1" result="fbg"/><feComposite in="lt" in2="fbg" operator="arithmetic" k2="1" k3="0.14"/><feComponentTransfer><feFuncR type="table" tableValues="0.5 0.62 0.78 0.94 1"/><feFuncG type="table" tableValues="0.14 0.2 0.31 0.45 0.78"/><feFuncB type="table" tableValues="0 0.02 0.035 0.05 0.33"/></feComponentTransfer></filter><filter id="afm3" filterUnits="userSpaceOnUse" x="401.0" y="657.8" width="203.8" height="199.7" color-interpolation-filters="sRGB"><feTurbulence type="fractalNoise" baseFrequency="0.7" numOctaves="2" seed="6" result="n"/><feTurbulence type="fractalNoise" baseFrequency="0.12" numOctaves="2" seed="26" result="cn"/><feColorMatrix in="n" type="matrix" values="0 0 0 0 0  0 0 0 0 0  0 0 0 0 0  0.12 0 0 0 0" result="na1"/><feColorMatrix in="cn" type="matrix" values="0 0 0 0 0  0 0 0 0 0  0 0 0 0 0  0.0 0 0 0 0" result="na2"/><feComposite in="na1" in2="na2" operator="arithmetic" k2="1" k3="1" result="na"/><feGaussianBlur in="SourceAlpha" stdDeviation="3.2" result="fb"/><feComposite in="fb" in2="na" operator="arithmetic" k2="0.8" k3="1" result="hh"/><feDiffuseLighting in="hh" surfaceScale="3.2" diffuseConstant="1" lighting-color="#fff" result="lt"><feDistantLight azimuth="15" elevation="48.6"/></feDiffuseLighting><feColorMatrix in="fb" type="matrix" values="0 0 0 1 0  0 0 0 1 0  0 0 0 1 0  0 0 0 0 1" result="fbg"/><feComposite in="lt" in2="fbg" operator="arithmetic" k2="1" k3="0.14"/><feComponentTransfer><feFuncR type="table" tableValues="0.5 0.62 0.78 0.94 1"/><feFuncG type="table" tableValues="0.14 0.2 0.31 0.45 0.78"/><feFuncB type="table" tableValues="0 0.02 0.035 0.05 0.33"/></feComponentTransfer></filter><filter id="afm4" filterUnits="userSpaceOnUse" x="616.8" y="657.8" width="190.2" height="198.7" color-interpolation-filters="sRGB"><feTurbulence type="fractalNoise" baseFrequency="0.55" numOctaves="2" seed="7" result="n"/><feTurbulence type="fractalNoise" baseFrequency="0.14" numOctaves="2" seed="27" result="cn"/><feColorMatrix in="n" type="matrix" values="0 0 0 0 0  0 0 0 0 0  0 0 0 0 0  0.2 0 0 0 0" result="na1"/><feColorMatrix in="cn" type="matrix" values="0 0 0 0 0  0 0 0 0 0  0 0 0 0 0  0.6 0 0 0 0" result="na2"/><feComposite in="na1" in2="na2" operator="arithmetic" k2="1" k3="1" result="na"/><feGaussianBlur in="SourceAlpha" stdDeviation="2.0" result="fb"/><feComposite in="fb" in2="na" operator="arithmetic" k2="0.8" k3="1" result="hh"/><feDiffuseLighting in="hh" surfaceScale="2.5" diffuseConstant="1" lighting-color="#fff" result="lt"><feDistantLight azimuth="15" elevation="48.6"/></feDiffuseLighting><feColorMatrix in="fb" type="matrix" values="0 0 0 1 0  0 0 0 1 0  0 0 0 1 0  0 0 0 0 1" result="fbg"/><feComposite in="lt" in2="fbg" operator="arithmetic" k2="1" k3="0.12"/><feComponentTransfer><feFuncR type="table" tableValues="0.5 0.62 0.78 0.94 1"/><feFuncG type="table" tableValues="0.14 0.2 0.31 0.45 0.78"/><feFuncB type="table" tableValues="0 0.02 0.035 0.05 0.33"/></feComponentTransfer></filter><filter id="afm5" filterUnits="userSpaceOnUse" x="815.2" y="657.8" width="199.2" height="199.4" color-interpolation-filters="sRGB"><feTurbulence type="fractalNoise" baseFrequency="0.7" numOctaves="2" seed="8" result="n"/><feTurbulence type="fractalNoise" baseFrequency="0.12" numOctaves="2" seed="28" result="cn"/><feColorMatrix in="n" type="matrix" values="0 0 0 0 0  0 0 0 0 0  0 0 0 0 0  0.12 0 0 0 0" result="na1"/><feColorMatrix in="cn" type="matrix" values="0 0 0 0 0  0 0 0 0 0  0 0 0 0 0  0.0 0 0 0 0" result="na2"/><feComposite in="na1" in2="na2" operator="arithmetic" k2="1" k3="1" result="na"/><feGaussianBlur in="SourceAlpha" stdDeviation="3.2" result="fb"/><feComposite in="fb" in2="na" operator="arithmetic" k2="0.8" k3="1" result="hh"/><feDiffuseLighting in="hh" surfaceScale="3.2" diffuseConstant="1" lighting-color="#fff" result="lt"><feDistantLight azimuth="15" elevation="48.6"/></feDiffuseLighting><feColorMatrix in="fb" type="matrix" values="0 0 0 1 0  0 0 0 1 0  0 0 0 1 0  0 0 0 0 1" result="fbg"/><feComposite in="lt" in2="fbg" operator="arithmetic" k2="1" k3="0.14"/><feComponentTransfer><feFuncR type="table" tableValues="0.5 0.62 0.78 0.94 1"/><feFuncG type="table" tableValues="0.14 0.2 0.31 0.45 0.78"/><feFuncB type="table" tableValues="0 0.02 0.035 0.05 0.33"/></feComponentTransfer></filter></defs>
<g filter="url(#afm0)"><rect x="403.8" y="449.5" width="203.6" height="198.0" fill="#000" fill-opacity="0.01"/></g>
<rect x="420.8" y="627.5" width="46.0" height="3.7" fill="#fff"/>
<text x="493" y="487" font-size="27.6" font-weight="bold" fill="#fff" stroke="#fff" stroke-width="0.7" textLength="92.5" lengthAdjust="spacingAndGlyphs">SIF-Ca<tspan font-size="20.4" dy="-7.2">2+</tspan></text>
<g filter="url(#afm1)"><rect x="617.0" y="449.5" width="189.4" height="198.0" fill="#000" fill-opacity="0.01"/><circle cx="703.0" cy="560.0" r="5.8" fill-opacity="0.41"/><circle cx="713.1" cy="565.3" r="3.6" fill-opacity="0.43"/><circle cx="735.5" cy="604.8" r="3.3" fill-opacity="0.36"/><circle cx="636.6" cy="608.0" r="5.1" fill-opacity="0.26"/><circle cx="800.1" cy="637.7" r="5.0" fill-opacity="0.47"/><circle cx="648.9" cy="455.4" r="4.6" fill-opacity="0.27"/><circle cx="654.9" cy="499.0" r="3.1" fill-opacity="0.41"/><circle cx="700.8" cy="614.2" r="4.6" fill-opacity="0.47"/><circle cx="711.7" cy="579.7" r="4.4" fill-opacity="0.35"/><circle cx="803.0" cy="643.7" r="5.5" fill-opacity="0.50"/><circle cx="677.8" cy="496.6" r="3.9" fill-opacity="0.27"/><circle cx="760.5" cy="529.4" r="5.5" fill-opacity="0.39"/><circle cx="795.7" cy="615.2" r="3.0" fill-opacity="0.32"/><circle cx="786.9" cy="542.7" r="5.9" fill-opacity="0.39"/><circle cx="633.4" cy="573.4" r="5.3" fill-opacity="0.34"/><circle cx="636.0" cy="516.4" r="5.9" fill-opacity="0.52"/><circle cx="641.6" cy="499.8" r="3.3" fill-opacity="0.27"/><circle cx="766.2" cy="486.6" r="4.7" fill-opacity="0.41"/><circle cx="655.0" cy="593.0" r="3.4" fill-opacity="0.48"/><circle cx="641.4" cy="533.3" r="3.6" fill-opacity="0.34"/><circle cx="798.1" cy="606.8" r="3.9" fill-opacity="0.56"/><circle cx="658.6" cy="528.2" r="5.6" fill-opacity="0.47"/><circle cx="638.4" cy="642.4" r="3.6" fill-opacity="0.34"/><circle cx="761.7" cy="515.7" r="3.9" fill-opacity="0.28"/><circle cx="636.5" cy="564.4" r="3.7" fill-opacity="0.46"/><circle cx="688.2" cy="539.5" r="5.9" fill-opacity="0.42"/><circle cx="725.4" cy="618.9" r="3.5" fill-opacity="0.30"/><circle cx="786.6" cy="609.5" r="3.7" fill-opacity="0.32"/><circle cx="755.6" cy="633.1" r="3.6" fill-opacity="0.58"/><circle cx="781.8" cy="568.4" r="4.3" fill-opacity="0.29"/><circle cx="627.1" cy="637.3" r="3.7" fill-opacity="0.50"/><circle cx="667.1" cy="610.7" r="4.8" fill-opacity="0.35"/><circle cx="652.2" cy="590.8" r="3.2" fill-opacity="0.33"/><circle cx="722.6" cy="616.2" r="4.8" fill-opacity="0.35"/><circle cx="788.2" cy="491.7" r="3.0" fill-opacity="0.34"/><circle cx="701.7" cy="464.1" r="3.5" fill-opacity="0.38"/><circle cx="724.9" cy="477.8" r="4.1" fill-opacity="0.56"/><circle cx="799.8" cy="578.6" r="5.1" fill-opacity="0.45"/><circle cx="645.7" cy="459.2" r="3.1" fill-opacity="0.57"/><circle cx="748.6" cy="637.4" r="3.1" fill-opacity="0.47"/><circle cx="708.4" cy="592.8" r="4.0" fill-opacity="0.60"/><circle cx="633.8" cy="557.4" r="5.2" fill-opacity="0.57"/><circle cx="755.2" cy="587.6" r="5.4" fill-opacity="0.57"/><circle cx="684.5" cy="584.0" r="5.7" fill-opacity="0.55"/><circle cx="696.5" cy="604.3" r="5.6" fill-opacity="0.45"/></g>
<rect x="638" y="627" width="45.8" height="2.5" fill="#fff"/>
<text x="681.3" y="487" font-size="27.6" font-weight="bold" fill="#fff" stroke="#fff" stroke-width="0.7" textLength="103.2" lengthAdjust="spacingAndGlyphs">SGF-Ca<tspan font-size="20.4" dy="-7.2">2+</tspan></text>
<g filter="url(#afm2)"><rect x="815.4" y="448.8" width="197.6" height="198.2" fill="#000" fill-opacity="0.01"/><path d="M848.8,508.6 Q846.5,522.5 847.6,530.6 Q848.8,538.8 851.1,546.9 Q853.4,555.0 856.9,563.1 Q860.4,571.2 863.9,578.2 Q867.3,585.1 870.8,590.9 L874.3,596.7" fill="none" stroke="#000" stroke-opacity="0.9" stroke-width="6" stroke-linecap="round" stroke-linejoin="round"/><path d="M881.3,499.3 Q888.2,510.9 891.7,517.9 Q895.2,524.8 897.5,531.8 Q899.8,538.8 901.0,545.7 Q902.1,552.7 904.4,559.6 Q906.8,566.6 911.4,573.6 Q916.0,580.5 919.5,587.5 Q923.0,594.4 925.3,601.4 L927.6,608.3" fill="none" stroke="#000" stroke-opacity="0.9" stroke-width="6" stroke-linecap="round" stroke-linejoin="round"/><path d="M911.4,524.8 Q916.0,534.1 913.7,539.9 Q911.4,545.7 907.9,550.4 Q904.4,555.0 901.0,558.5 L897.5,562.0" fill="none" stroke="#000" stroke-opacity="0.9" stroke-width="6" stroke-linecap="round" stroke-linejoin="round"/><path d="M867.3,557.3 Q874.3,571.2 878.9,578.2 Q883.6,585.1 888.2,590.9 Q892.8,596.7 897.5,602.5 Q902.1,608.3 906.8,610.7 L911.4,613.0" fill="none" stroke="#000" stroke-opacity="0.9" stroke-width="6" stroke-linecap="round" stroke-linejoin="round"/><path d="M923.0,550.4 Q927.6,566.6 928.8,573.6 L930.0,580.5" fill="none" stroke="#000" stroke-opacity="0.9" stroke-width="6" stroke-linecap="round" stroke-linejoin="round"/><path d="M1004.2,585.1 Q997.2,599.1 991.4,606.0 Q985.6,613.0 981.0,619.9 Q976.3,626.9 979.8,632.7 L983.3,638.5" fill="none" stroke="#000" stroke-opacity="0.9" stroke-width="6" stroke-linecap="round" stroke-linejoin="round"/><path d="M953.1,566.6 Q957.8,585.1 960.1,594.4 L962.4,603.7" fill="none" stroke="#000" stroke-opacity="0.9" stroke-width="6" stroke-linecap="round" stroke-linejoin="round"/><path d="M930.0,499.3 L925.3,515.6" fill="none" stroke="#000" stroke-opacity="0.9" stroke-width="6" stroke-linecap="round" stroke-linejoin="round"/><path d="M818.6,543.4 L823.3,566.6" fill="none" stroke="#000" stroke-opacity="0.9" stroke-width="6" stroke-linecap="round" stroke-linejoin="round"/></g>
<rect x="834.3" y="625.5" width="45.7" height="3.3" fill="#fff"/>
<text x="877" y="487" font-size="27.6" font-weight="bold" fill="#fff" stroke="#fff" stroke-width="0.7" textLength="112.0" lengthAdjust="spacingAndGlyphs">SGIF-Ca<tspan font-size="20.4" dy="-7.2">2+</tspan></text>
<g filter="url(#afm3)"><rect x="401.0" y="657.8" width="203.8" height="199.7" fill="#000" fill-opacity="0.01"/><path d="M435.7,660.9 Q423.8,670.8 420.8,677.8 Q417.8,684.7 414.9,692.6 Q411.9,700.6 408.9,706.5 L405.9,712.4" fill="none" stroke="#000" stroke-opacity="1" stroke-width="8" stroke-linecap="round" stroke-linejoin="round"/><path d="M404.0,714.4 Q411.9,730.3 416.8,736.2 Q421.8,742.2 427.7,748.1 Q433.7,754.0 439.0,759.3 L444.3,764.5" fill="none" stroke="#000" stroke-opacity="1" stroke-width="8" stroke-linecap="round" stroke-linejoin="round"/><path d="M522.8,659.0 Q518.9,674.8 517.9,684.7 Q516.9,694.6 515.9,702.5 L514.9,710.5" fill="none" stroke="#000" stroke-opacity="1" stroke-width="8" stroke-linecap="round" stroke-linejoin="round"/><path d="M538.7,659.0 Q534.7,674.8 531.7,684.7 L528.8,694.6" fill="none" stroke="#000" stroke-opacity="1" stroke-width="8" stroke-linecap="round" stroke-linejoin="round"/><path d="M598.1,684.7 Q590.2,704.5 584.2,712.4 Q578.3,720.4 573.3,727.3 Q568.4,734.2 563.4,739.2 L558.5,744.1" fill="none" stroke="#000" stroke-opacity="1" stroke-width="8" stroke-linecap="round" stroke-linejoin="round"/><path d="M404.0,766.9 Q415.8,774.8 422.8,778.7 Q429.7,782.7 434.7,787.7 L439.6,792.6" fill="none" stroke="#000" stroke-opacity="1" stroke-width="8" stroke-linecap="round" stroke-linejoin="round"/><path d="M407.9,812.4 Q415.8,822.3 419.8,827.3 Q423.8,832.3 427.7,837.2 Q431.7,842.1 435.7,848.1 L439.6,854.0" fill="none" stroke="#000" stroke-opacity="1" stroke-width="8" stroke-linecap="round" stroke-linejoin="round"/><path d="M423.8,784.7 Q433.7,794.6 436.6,802.5 Q439.6,810.4 441.6,817.4 Q443.6,824.3 445.6,831.3 Q447.5,838.2 449.5,844.1 L451.5,850.1" fill="none" stroke="#000" stroke-opacity="1" stroke-width="8" stroke-linecap="round" stroke-linejoin="round"/><path d="M449.5,782.7 Q461.4,780.8 467.4,778.8 L473.3,776.8" fill="none" stroke="#000" stroke-opacity="1" stroke-width="8" stroke-linecap="round" stroke-linejoin="round"/><path d="M495.1,764.9 Q483.2,776.8 478.2,783.7 Q473.3,790.6 469.3,798.6 Q465.4,806.5 462.4,814.4 Q459.4,822.3 457.4,828.3 L455.5,834.2" fill="none" stroke="#000" stroke-opacity="1" stroke-width="8" stroke-linecap="round" stroke-linejoin="round"/><path d="M503.0,794.6 Q499.0,808.5 496.1,814.4 Q493.1,820.4 488.1,825.3 Q483.2,830.3 478.2,834.2 L473.3,838.2" fill="none" stroke="#000" stroke-opacity="1" stroke-width="8" stroke-linecap="round" stroke-linejoin="round"/><path d="M510.9,810.4 Q514.9,824.3 515.9,831.3 Q516.9,838.2 517.9,844.1 L518.9,850.1" fill="none" stroke="#000" stroke-opacity="1" stroke-width="8" stroke-linecap="round" stroke-linejoin="round"/><path d="M518.9,824.3 Q530.7,814.4 536.7,810.4 Q542.6,806.5 546.6,803.5 L550.5,800.6" fill="none" stroke="#000" stroke-opacity="1" stroke-width="8" stroke-linecap="round" stroke-linejoin="round"/><path d="M526.8,830.3 Q538.7,822.3 544.6,818.4 L550.5,814.4" fill="none" stroke="#000" stroke-opacity="1" stroke-width="8" stroke-linecap="round" stroke-linejoin="round"/><path d="M542.6,842.1 Q554.5,848.1 559.5,849.1 L564.4,850.1" fill="none" stroke="#000" stroke-opacity="1" stroke-width="8" stroke-linecap="round" stroke-linejoin="round"/><path d="M578.3,762.9 Q582.2,774.8 580.3,780.7 L578.3,786.7" fill="none" stroke="#000" stroke-opacity="1" stroke-width="8" stroke-linecap="round" stroke-linejoin="round"/><path d="M586.2,818.4 L598.1,814.4" fill="none" stroke="#000" stroke-opacity="1" stroke-width="8" stroke-linecap="round" stroke-linejoin="round"/><path d="M404.7,799.5 Q409.3,818.1 411.7,827.5 Q414.0,836.8 416.3,844.9 L418.6,853.1" fill="none" stroke="#000" stroke-opacity="1" stroke-width="8" stroke-linecap="round" stroke-linejoin="round"/><circle cx="441.6" cy="710.5" r="7.7"/><circle cx="451.5" cy="730.3" r="5.6"/><circle cx="465.4" cy="720.4" r="5.6"/><circle cx="459.4" cy="698.6" r="5.1"/><circle cx="479.2" cy="708.5" r="5.1"/><circle cx="489.0" cy="724.3" r="5.1"/><circle cx="503.0" cy="720.4" r="5.1"/><circle cx="514.9" cy="734.2" r="5.6"/><circle cx="528.8" cy="730.3" r="5.1"/><circle cx="542.6" cy="716.4" r="5.6"/><circle cx="550.5" cy="730.3" r="5.6"/><circle cx="562.4" cy="720.4" r="5.1"/><circle cx="594.1" cy="662.9" r="5.1"/><circle cx="538.7" cy="766.9" r="5.6"/><circle cx="558.5" cy="778.7" r="5.6"/><circle cx="570.4" cy="786.7" r="5.1"/><circle cx="526.8" cy="798.6" r="4.6"/><circle cx="489.1" cy="808.5" r="3.8"/><circle cx="469.9" cy="752.9" r="4.1"/><circle cx="497.9" cy="748.2" r="4.1"/></g>
<rect x="414" y="841.3" width="45.8" height="2.6" fill="#fff"/>
<text x="475" y="695.4" font-size="27.3" font-weight="bold" fill="#fff" stroke="#fff" stroke-width="0.7" textLength="108.5" lengthAdjust="spacingAndGlyphs">SIF-EDTA</text>
<g filter="url(#afm4)"><rect x="616.8" y="657.8" width="190.2" height="198.7" fill="#000" fill-opacity="0.01"/><circle cx="734.9" cy="734.5" r="4.7" fill-opacity="0.46"/><circle cx="634.6" cy="784.0" r="6.0" fill-opacity="0.56"/><circle cx="753.9" cy="735.7" r="5.2" fill-opacity="0.45"/><circle cx="700.9" cy="822.4" r="3.3" fill-opacity="0.51"/><circle cx="625.3" cy="776.7" r="4.4" fill-opacity="0.33"/><circle cx="748.4" cy="756.6" r="4.8" fill-opacity="0.57"/><circle cx="666.9" cy="663.0" r="3.9" fill-opacity="0.49"/><circle cx="657.1" cy="693.5" r="5.7" fill-opacity="0.48"/><circle cx="701.2" cy="832.6" r="4.0" fill-opacity="0.48"/><circle cx="656.4" cy="743.8" r="5.4" fill-opacity="0.57"/><circle cx="781.9" cy="734.9" r="4.7" fill-opacity="0.36"/><circle cx="644.9" cy="756.5" r="5.5" fill-opacity="0.55"/><circle cx="750.8" cy="843.9" r="3.8" fill-opacity="0.31"/><circle cx="702.8" cy="713.8" r="3.6" fill-opacity="0.39"/><circle cx="735.1" cy="756.0" r="3.9" fill-opacity="0.54"/><circle cx="800.7" cy="748.0" r="3.2" fill-opacity="0.26"/><circle cx="780.6" cy="668.8" r="5.1" fill-opacity="0.45"/><circle cx="676.7" cy="813.3" r="3.1" fill-opacity="0.30"/><circle cx="703.6" cy="665.6" r="5.5" fill-opacity="0.33"/><circle cx="645.7" cy="669.8" r="4.9" fill-opacity="0.41"/><circle cx="735.8" cy="787.0" r="5.4" fill-opacity="0.59"/><circle cx="745.9" cy="699.2" r="4.4" fill-opacity="0.31"/><circle cx="621.8" cy="751.8" r="5.1" fill-opacity="0.31"/><circle cx="670.0" cy="727.4" r="5.1" fill-opacity="0.43"/><circle cx="733.0" cy="806.5" r="4.2" fill-opacity="0.53"/><circle cx="786.7" cy="677.6" r="5.8" fill-opacity="0.50"/><circle cx="643.7" cy="748.2" r="4.9" fill-opacity="0.57"/><circle cx="689.2" cy="770.4" r="5.6" fill-opacity="0.53"/><circle cx="793.7" cy="750.2" r="5.0" fill-opacity="0.32"/><circle cx="752.8" cy="818.5" r="4.9" fill-opacity="0.50"/><circle cx="659.1" cy="834.2" r="5.9" fill-opacity="0.59"/><circle cx="718.7" cy="813.2" r="4.0" fill-opacity="0.57"/><circle cx="777.4" cy="728.0" r="3.2" fill-opacity="0.40"/><circle cx="721.2" cy="808.8" r="4.5" fill-opacity="0.26"/><circle cx="768.8" cy="673.1" r="5.4" fill-opacity="0.31"/><circle cx="681.5" cy="812.6" r="3.4" fill-opacity="0.30"/><circle cx="714.9" cy="800.2" r="5.5" fill-opacity="0.49"/><circle cx="794.0" cy="755.7" r="5.8" fill-opacity="0.28"/><circle cx="660.6" cy="762.3" r="3.9" fill-opacity="0.51"/><circle cx="737.5" cy="761.5" r="5.5" fill-opacity="0.45"/><circle cx="677.2" cy="734.3" r="5.5" fill-opacity="0.57"/><circle cx="658.2" cy="824.7" r="5.9" fill-opacity="0.43"/><circle cx="725.3" cy="699.5" r="4.6" fill-opacity="0.43"/><circle cx="731.3" cy="666.1" r="5.9" fill-opacity="0.43"/><circle cx="693.6" cy="815.2" r="4.7" fill-opacity="0.42"/><circle cx="747.1" cy="673.5" r="4.6" fill-opacity="0.39"/><circle cx="796.1" cy="838.7" r="3.8" fill-opacity="0.42"/><circle cx="643.2" cy="744.4" r="5.4" fill-opacity="0.57"/><circle cx="707.6" cy="721.9" r="3.6" fill-opacity="0.47"/><circle cx="790.2" cy="685.7" r="5.3" fill-opacity="0.26"/><circle cx="655.6" cy="704.6" r="5.1" fill-opacity="0.36"/><circle cx="685.3" cy="780.2" r="3.3" fill-opacity="0.51"/><circle cx="642.4" cy="759.2" r="3.8" fill-opacity="0.32"/><circle cx="717.5" cy="745.0" r="4.1" fill-opacity="0.39"/><circle cx="717.3" cy="691.6" r="3.6" fill-opacity="0.47"/><circle cx="737.4" cy="762.9" r="5.6" fill-opacity="0.46"/><circle cx="777.6" cy="705.6" r="5.2" fill-opacity="0.53"/><circle cx="786.1" cy="721.7" r="3.9" fill-opacity="0.57"/><circle cx="660.0" cy="853.2" r="5.7" fill-opacity="0.30"/><circle cx="663.9" cy="800.8" r="3.8" fill-opacity="0.28"/><circle cx="773.1" cy="742.0" r="5.4" fill-opacity="0.29"/><circle cx="694.0" cy="792.8" r="3.1" fill-opacity="0.32"/><circle cx="745.5" cy="836.4" r="5.9" fill-opacity="0.29"/><circle cx="712.9" cy="806.9" r="4.5" fill-opacity="0.49"/><circle cx="654.6" cy="674.4" r="3.3" fill-opacity="0.26"/><circle cx="721.4" cy="760.0" r="4.7" fill-opacity="0.30"/><circle cx="653.8" cy="700.1" r="5.5" fill-opacity="0.60"/><circle cx="790.5" cy="679.2" r="3.2" fill-opacity="0.58"/><circle cx="704.9" cy="808.2" r="4.0" fill-opacity="0.41"/><circle cx="714.7" cy="743.7" r="4.8" fill-opacity="0.25"/></g>
<rect x="630.3" y="840.7" width="45.5" height="3.1" fill="#fff"/>
<text x="671.8" y="697.4" font-size="24.4" font-weight="bold" fill="#fff" stroke="#fff" stroke-width="0.7" textLength="119.3" lengthAdjust="spacingAndGlyphs">SGF-EDTA</text>
<g filter="url(#afm5)"><rect x="815.2" y="657.8" width="199.2" height="199.4" fill="#000" fill-opacity="0.01"/><path d="M821.0,713.2 Q823.3,729.6 824.5,738.9 Q825.6,748.2 824.5,757.5 Q823.3,766.8 821.0,773.8 L818.7,780.8" fill="none" stroke="#000" stroke-opacity="1" stroke-width="8.5" stroke-linecap="round" stroke-linejoin="round"/><path d="M832.6,683.0 Q842.0,689.9 846.6,695.8 Q851.3,701.6 854.8,708.6 Q858.3,715.6 859.4,723.7 Q860.6,731.9 861.8,740.0 Q862.9,748.2 865.3,756.4 Q867.6,764.5 868.8,771.5 Q869.9,778.5 868.8,786.6 L867.6,794.8" fill="none" stroke="#000" stroke-opacity="1" stroke-width="8.5" stroke-linecap="round" stroke-linejoin="round"/><path d="M839.6,659.7 Q848.9,669.0 852.4,676.0 L855.9,683.0" fill="none" stroke="#000" stroke-opacity="1" stroke-width="8.5" stroke-linecap="round" stroke-linejoin="round"/><path d="M828.0,766.8 Q832.6,783.1 835.0,790.1 Q837.3,797.1 839.6,802.9 Q842.0,808.8 846.6,813.4 Q851.3,818.1 858.3,820.4 Q865.3,822.8 872.2,822.8 L879.2,822.8" fill="none" stroke="#000" stroke-opacity="1" stroke-width="8.5" stroke-linecap="round" stroke-linejoin="round"/><path d="M818.7,804.1 Q823.3,818.1 825.6,825.1 Q828.0,832.1 830.3,839.1 L832.6,846.1" fill="none" stroke="#000" stroke-opacity="1" stroke-width="8.5" stroke-linecap="round" stroke-linejoin="round"/><path d="M872.2,724.9 Q883.9,713.2 887.4,707.4 Q890.9,701.6 894.4,696.9 L897.9,692.3" fill="none" stroke="#000" stroke-opacity="1" stroke-width="8.5" stroke-linecap="round" stroke-linejoin="round"/><path d="M890.9,717.9 Q902.5,724.9 907.2,729.6 Q911.9,734.2 916.5,736.5 L921.2,738.9" fill="none" stroke="#000" stroke-opacity="1" stroke-width="8.5" stroke-linecap="round" stroke-linejoin="round"/><path d="M883.9,694.6 Q895.5,701.6 903.7,703.9 Q911.9,706.3 917.7,708.6 L923.5,710.9" fill="none" stroke="#000" stroke-opacity="1" stroke-width="8.5" stroke-linecap="round" stroke-linejoin="round"/><path d="M937.5,706.3 Q935.2,724.9 932.8,734.2 Q930.5,743.5 927.0,750.5 Q923.5,757.5 918.8,764.5 Q914.2,771.5 910.7,776.2 L907.2,780.8" fill="none" stroke="#000" stroke-opacity="1" stroke-width="8.5" stroke-linecap="round" stroke-linejoin="round"/><path d="M977.1,694.6 Q965.4,708.6 960.8,715.6 Q956.1,722.6 952.6,729.6 Q949.1,736.5 946.8,744.7 Q944.5,752.9 945.6,759.8 L946.8,766.8" fill="none" stroke="#000" stroke-opacity="1" stroke-width="8.5" stroke-linecap="round" stroke-linejoin="round"/><path d="M1014.4,669.0 Q1005.1,678.3 1000.4,685.3 Q995.7,692.3 991.1,700.4 Q986.4,708.6 981.8,716.7 Q977.1,724.9 974.8,734.2 L972.4,743.5" fill="none" stroke="#000" stroke-opacity="1" stroke-width="8.5" stroke-linecap="round" stroke-linejoin="round"/><path d="M1012.0,720.2 Q1005.1,734.2 1002.7,741.2 Q1000.4,748.2 996.9,755.2 Q993.4,762.2 991.1,769.2 Q988.7,776.2 986.4,780.8 L984.1,785.5" fill="none" stroke="#000" stroke-opacity="1" stroke-width="8.5" stroke-linecap="round" stroke-linejoin="round"/><path d="M953.8,771.5 Q967.8,780.8 974.8,782.0 Q981.8,783.1 988.7,782.0 Q995.7,780.8 1002.7,779.7 L1009.7,778.5" fill="none" stroke="#000" stroke-opacity="1" stroke-width="8.5" stroke-linecap="round" stroke-linejoin="round"/><path d="M977.1,794.8 Q991.1,806.4 998.1,812.3 Q1005.1,818.1 1009.7,825.1 L1014.4,832.1" fill="none" stroke="#000" stroke-opacity="1" stroke-width="8.5" stroke-linecap="round" stroke-linejoin="round"/><path d="M907.2,785.5 Q921.2,794.8 925.8,799.5 Q930.5,804.1 934.0,811.1 Q937.5,818.1 941.0,825.1 Q944.5,832.1 946.8,841.4 L949.1,850.7" fill="none" stroke="#000" stroke-opacity="1" stroke-width="8.5" stroke-linecap="round" stroke-linejoin="round"/><path d="M890.9,806.4 Q897.9,818.1 900.2,825.1 Q902.5,832.1 903.7,841.4 L904.9,850.7" fill="none" stroke="#000" stroke-opacity="1" stroke-width="8.5" stroke-linecap="round" stroke-linejoin="round"/><path d="M958.5,799.5 Q965.4,818.1 967.8,827.4 Q970.1,836.7 973.6,844.9 L977.1,853.0" fill="none" stroke="#000" stroke-opacity="1" stroke-width="8.5" stroke-linecap="round" stroke-linejoin="round"/><path d="M872.2,841.4 Q883.9,836.7 889.7,834.4 L895.5,832.1" fill="none" stroke="#000" stroke-opacity="1" stroke-width="8.5" stroke-linecap="round" stroke-linejoin="round"/><path d="M921.2,659.7 Q930.5,669.0 935.2,673.6 L939.8,678.3" fill="none" stroke="#000" stroke-opacity="1" stroke-width="8.5" stroke-linecap="round" stroke-linejoin="round"/><path d="M963.1,662.0 Q977.1,669.0 986.4,671.3 L995.7,673.6" fill="none" stroke="#000" stroke-opacity="1" stroke-width="8.5" stroke-linecap="round" stroke-linejoin="round"/><path d="M872.2,664.3 Q879.2,676.0 881.6,683.0 L883.9,689.9" fill="none" stroke="#000" stroke-opacity="1" stroke-width="8.5" stroke-linecap="round" stroke-linejoin="round"/></g>
<rect x="826.1" y="840.7" width="46.1" height="3.0" fill="#fff"/>
<text x="862.2" y="697.6" font-size="24.7" font-weight="bold" fill="#fff" stroke="#fff" stroke-width="0.7" textLength="126.5" lengthAdjust="spacingAndGlyphs">SGIF-EDTA</text>
</g>
</svg></body></html>
